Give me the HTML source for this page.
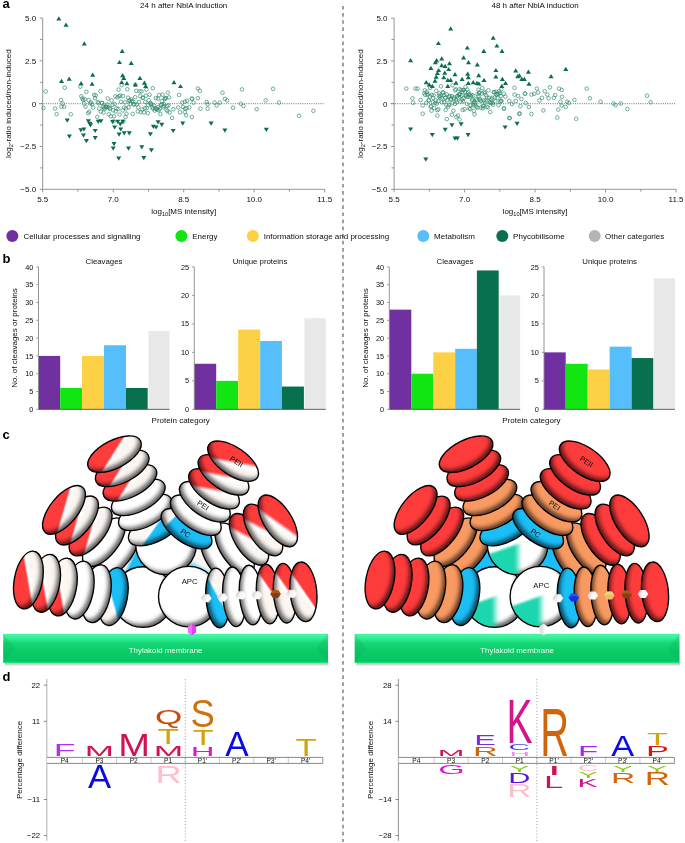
<!DOCTYPE html><html><head><meta charset="utf-8"><title>Figure</title><style>html,body{margin:0;padding:0;background:#fff;overflow:hidden;}svg{display:block;font-family:"Liberation Sans", sans-serif;will-change:transform;}</style></head><body><svg width="685" height="843" viewBox="0 0 685 843" font-family='"Liberation Sans", sans-serif'><defs><filter id="ish" x="-15%" y="-15%" width="130%" height="130%" color-interpolation-filters="sRGB">
<feOffset in="SourceAlpha" dx="-2.6" dy="-3.0" result="o"/><feGaussianBlur in="o" stdDeviation="2.3" result="b"/>
<feComposite in="SourceAlpha" in2="b" operator="out" result="rim"/><feFlood flood-color="#000" flood-opacity="0.62"/>
<feComposite in2="rim" operator="in" result="sh"/><feMerge><feMergeNode in="SourceGraphic"/><feMergeNode in="sh"/></feMerge></filter>
<linearGradient id="hexw" x1="0" y1="0.3" x2="1" y2="0.7"><stop offset="0" stop-color="#c9c9c9"/><stop offset="0.45" stop-color="#f6f6f6"/><stop offset="1" stop-color="#ffffff"/></linearGradient>
<filter id="ishL" x="-15%" y="-15%" width="130%" height="130%" color-interpolation-filters="sRGB">
<feOffset in="SourceAlpha" dx="2.6" dy="-3.0" result="o"/><feGaussianBlur in="o" stdDeviation="2.3" result="b"/>
<feComposite in="SourceAlpha" in2="b" operator="out" result="rim"/><feFlood flood-color="#000" flood-opacity="0.62"/>
<feComposite in2="rim" operator="in" result="sh"/><feMerge><feMergeNode in="SourceGraphic"/><feMergeNode in="sh"/></feMerge></filter>
<filter id="soft" x="-20%" y="-20%" width="140%" height="140%"><feGaussianBlur stdDeviation="1.2"/></filter><linearGradient id="g1" x1="0" y1="0" x2="0" y2="1"><stop offset="0" stop-color="#46f8a6"/><stop offset="0.12" stop-color="#3af39c"/><stop offset="0.3" stop-color="#17d877"/><stop offset="0.6" stop-color="#0bcb68"/><stop offset="0.93" stop-color="#06c663"/><stop offset="1" stop-color="#22e484"/></linearGradient><linearGradient id="g2" x1="0" y1="0" x2="0" y2="1"><stop offset="0" stop-color="#000" stop-opacity="0.28"/><stop offset="1" stop-color="#000" stop-opacity="0"/></linearGradient><linearGradient id="g3" x1="0" y1="0" x2="0" y2="1"><stop offset="0" stop-color="#46f8a6"/><stop offset="0.12" stop-color="#3af39c"/><stop offset="0.3" stop-color="#17d877"/><stop offset="0.6" stop-color="#0bcb68"/><stop offset="0.93" stop-color="#06c663"/><stop offset="1" stop-color="#22e484"/></linearGradient><linearGradient id="g4" x1="0" y1="0" x2="0" y2="1"><stop offset="0" stop-color="#000" stop-opacity="0.28"/><stop offset="1" stop-color="#000" stop-opacity="0"/></linearGradient><linearGradient id="g5" gradientUnits="userSpaceOnUse" x1="129.69" y1="558.54" x2="133.31" y2="560.26"><stop offset="0" stop-color="#fbf6f2"/><stop offset="1" stop-color="#1cbef6"/></linearGradient><linearGradient id="g6" x1="0" y1="1" x2="0.5" y2="0"><stop offset="0.25" stop-color="#1cbef6"/><stop offset="0.45" stop-color="#fbf6f2"/></linearGradient><linearGradient id="g7" gradientUnits="userSpaceOnUse" x1="76.39" y1="527.37" x2="103.28" y2="535.18"><stop offset="0" stop-color="#ff3c3c"/><stop offset="0.482" stop-color="#ff3c3c"/><stop offset="0.564" stop-color="#ffffff"/><stop offset="0.600" stop-color="#ffffff"/><stop offset="0.679" stop-color="#fbf6f2"/><stop offset="1" stop-color="#fbf6f2"/></linearGradient><linearGradient id="g8" gradientUnits="userSpaceOnUse" x1="62.79" y1="516.37" x2="89.68" y2="524.18"><stop offset="0" stop-color="#ff3c3c"/><stop offset="0.482" stop-color="#ff3c3c"/><stop offset="0.564" stop-color="#ffffff"/><stop offset="0.600" stop-color="#ffffff"/><stop offset="0.679" stop-color="#fbf6f2"/><stop offset="1" stop-color="#fbf6f2"/></linearGradient><linearGradient id="g9" gradientUnits="userSpaceOnUse" x1="49.79" y1="505.77" x2="76.68" y2="513.58"><stop offset="0" stop-color="#ff3c3c"/><stop offset="0.482" stop-color="#ff3c3c"/><stop offset="0.564" stop-color="#ffffff"/><stop offset="0.600" stop-color="#ffffff"/><stop offset="0.679" stop-color="#fbf6f2"/><stop offset="1" stop-color="#fbf6f2"/></linearGradient><linearGradient id="g10" gradientUnits="userSpaceOnUse" x1="256.85" y1="524.32" x2="243.92" y2="549.16"><stop offset="0" stop-color="#ff3c3c"/><stop offset="0.471" stop-color="#ff3c3c"/><stop offset="0.603" stop-color="#ffffff"/><stop offset="0.660" stop-color="#ffffff"/><stop offset="0.786" stop-color="#fbf6f2"/><stop offset="1" stop-color="#fbf6f2"/></linearGradient><linearGradient id="g11" gradientUnits="userSpaceOnUse" x1="270.39" y1="515.53" x2="257.79" y2="540.54"><stop offset="0" stop-color="#ff3c3c"/><stop offset="0.471" stop-color="#ff3c3c"/><stop offset="0.603" stop-color="#ffffff"/><stop offset="0.660" stop-color="#ffffff"/><stop offset="0.786" stop-color="#fbf6f2"/><stop offset="1" stop-color="#fbf6f2"/></linearGradient><linearGradient id="g12" gradientUnits="userSpaceOnUse" x1="285.72" y1="509.72" x2="269.53" y2="532.57"><stop offset="0" stop-color="#ff3c3c"/><stop offset="0.471" stop-color="#ff3c3c"/><stop offset="0.603" stop-color="#ffffff"/><stop offset="0.660" stop-color="#ffffff"/><stop offset="0.786" stop-color="#fbf6f2"/><stop offset="1" stop-color="#fbf6f2"/></linearGradient><linearGradient id="g13" gradientUnits="userSpaceOnUse" x1="167.02" y1="536.00" x2="144.19" y2="519.78"><stop offset="0" stop-color="#1cbef6"/><stop offset="0.482" stop-color="#1cbef6"/><stop offset="0.564" stop-color="#ffffff"/><stop offset="0.600" stop-color="#ffffff"/><stop offset="0.679" stop-color="#fbf6f2"/><stop offset="1" stop-color="#fbf6f2"/></linearGradient><linearGradient id="g14" gradientUnits="userSpaceOnUse" x1="116.57" y1="474.39" x2="140.22" y2="489.37"><stop offset="0" stop-color="#ff3c3c"/><stop offset="0.482" stop-color="#ff3c3c"/><stop offset="0.564" stop-color="#ffffff"/><stop offset="0.600" stop-color="#ffffff"/><stop offset="0.679" stop-color="#fbf6f2"/><stop offset="1" stop-color="#fbf6f2"/></linearGradient><linearGradient id="g15" gradientUnits="userSpaceOnUse" x1="108.77" y1="459.89" x2="132.42" y2="474.87"><stop offset="0" stop-color="#ff3c3c"/><stop offset="0.482" stop-color="#ff3c3c"/><stop offset="0.564" stop-color="#ffffff"/><stop offset="0.600" stop-color="#ffffff"/><stop offset="0.679" stop-color="#fbf6f2"/><stop offset="1" stop-color="#fbf6f2"/></linearGradient><linearGradient id="g16" gradientUnits="userSpaceOnUse" x1="101.07" y1="445.69" x2="124.72" y2="460.67"><stop offset="0" stop-color="#ff3c3c"/><stop offset="0.482" stop-color="#ff3c3c"/><stop offset="0.564" stop-color="#ffffff"/><stop offset="0.600" stop-color="#ffffff"/><stop offset="0.679" stop-color="#fbf6f2"/><stop offset="1" stop-color="#fbf6f2"/></linearGradient><linearGradient id="g17" gradientUnits="userSpaceOnUse" x1="185.08" y1="527.29" x2="165.20" y2="507.58"><stop offset="0" stop-color="#1cbef6"/><stop offset="0.482" stop-color="#1cbef6"/><stop offset="0.564" stop-color="#ffffff"/><stop offset="0.600" stop-color="#ffffff"/><stop offset="0.679" stop-color="#fbf6f2"/><stop offset="1" stop-color="#fbf6f2"/></linearGradient><linearGradient id="g18" gradientUnits="userSpaceOnUse" x1="216.56" y1="474.93" x2="211.52" y2="502.47"><stop offset="0" stop-color="#ff3c3c"/><stop offset="0.473" stop-color="#ff3c3c"/><stop offset="0.596" stop-color="#ffffff"/><stop offset="0.650" stop-color="#ffffff"/><stop offset="0.768" stop-color="#fbf6f2"/><stop offset="1" stop-color="#fbf6f2"/></linearGradient><linearGradient id="g19" gradientUnits="userSpaceOnUse" x1="226.06" y1="460.93" x2="221.02" y2="488.47"><stop offset="0" stop-color="#ff3c3c"/><stop offset="0.473" stop-color="#ff3c3c"/><stop offset="0.596" stop-color="#ffffff"/><stop offset="0.650" stop-color="#ffffff"/><stop offset="0.768" stop-color="#fbf6f2"/><stop offset="1" stop-color="#fbf6f2"/></linearGradient><linearGradient id="g20" gradientUnits="userSpaceOnUse" x1="235.66" y1="447.23" x2="230.62" y2="474.77"><stop offset="0" stop-color="#ff3c3c"/><stop offset="0.473" stop-color="#ff3c3c"/><stop offset="0.596" stop-color="#ffffff"/><stop offset="0.650" stop-color="#ffffff"/><stop offset="0.768" stop-color="#fbf6f2"/><stop offset="1" stop-color="#fbf6f2"/></linearGradient><linearGradient id="g21" gradientUnits="userSpaceOnUse" x1="125.88" y1="592.94" x2="98.99" y2="600.76"><stop offset="0" stop-color="#1cbef6"/><stop offset="0.482" stop-color="#1cbef6"/><stop offset="0.564" stop-color="#ffffff"/><stop offset="0.600" stop-color="#ffffff"/><stop offset="0.679" stop-color="#fbf6f2"/><stop offset="1" stop-color="#fbf6f2"/></linearGradient><linearGradient id="g22" gradientUnits="userSpaceOnUse" x1="45.15" y1="589.98" x2="72.75" y2="585.21"><stop offset="0" stop-color="#ff3c3c"/><stop offset="0.482" stop-color="#ff3c3c"/><stop offset="0.564" stop-color="#ffffff"/><stop offset="0.600" stop-color="#ffffff"/><stop offset="0.679" stop-color="#fbf6f2"/><stop offset="1" stop-color="#fbf6f2"/></linearGradient><linearGradient id="g23" gradientUnits="userSpaceOnUse" x1="28.85" y1="586.19" x2="56.44" y2="581.43"><stop offset="0" stop-color="#ff3c3c"/><stop offset="0.482" stop-color="#ff3c3c"/><stop offset="0.564" stop-color="#ffffff"/><stop offset="0.600" stop-color="#ffffff"/><stop offset="0.679" stop-color="#fbf6f2"/><stop offset="1" stop-color="#fbf6f2"/></linearGradient><linearGradient id="g24" gradientUnits="userSpaceOnUse" x1="13.52" y1="582.57" x2="41.11" y2="577.81"><stop offset="0" stop-color="#ff3c3c"/><stop offset="0.482" stop-color="#ff3c3c"/><stop offset="0.564" stop-color="#ffffff"/><stop offset="0.600" stop-color="#ffffff"/><stop offset="0.679" stop-color="#fbf6f2"/><stop offset="1" stop-color="#fbf6f2"/></linearGradient><linearGradient id="g25" gradientUnits="userSpaceOnUse" x1="205.62" y1="604.77" x2="229.96" y2="590.93"><stop offset="0" stop-color="#1cbef6"/><stop offset="0.482" stop-color="#1cbef6"/><stop offset="0.564" stop-color="#ffffff"/><stop offset="0.600" stop-color="#ffffff"/><stop offset="0.679" stop-color="#fbf6f2"/><stop offset="1" stop-color="#fbf6f2"/></linearGradient><linearGradient id="g26" gradientUnits="userSpaceOnUse" x1="283.50" y1="583.26" x2="260.51" y2="599.24"><stop offset="0" stop-color="#ff3c3c"/><stop offset="0.482" stop-color="#ff3c3c"/><stop offset="0.564" stop-color="#ffffff"/><stop offset="0.600" stop-color="#ffffff"/><stop offset="0.679" stop-color="#fbf6f2"/><stop offset="1" stop-color="#fbf6f2"/></linearGradient><linearGradient id="g27" gradientUnits="userSpaceOnUse" x1="300.50" y1="582.36" x2="277.51" y2="598.34"><stop offset="0" stop-color="#ff3c3c"/><stop offset="0.482" stop-color="#ff3c3c"/><stop offset="0.564" stop-color="#ffffff"/><stop offset="0.600" stop-color="#ffffff"/><stop offset="0.679" stop-color="#fbf6f2"/><stop offset="1" stop-color="#fbf6f2"/></linearGradient><linearGradient id="g28" gradientUnits="userSpaceOnUse" x1="316.05" y1="583.01" x2="293.05" y2="598.99"><stop offset="0" stop-color="#ff3c3c"/><stop offset="0.482" stop-color="#ff3c3c"/><stop offset="0.564" stop-color="#ffffff"/><stop offset="0.600" stop-color="#ffffff"/><stop offset="0.679" stop-color="#fbf6f2"/><stop offset="1" stop-color="#fbf6f2"/></linearGradient><clipPath id="cg29"><circle cx="494.60" cy="597.00" r="29.80"/></clipPath><linearGradient id="g30" gradientUnits="userSpaceOnUse" x1="491.60" y1="0" x2="499.10" y2="0"><stop offset="0" stop-color="#1fd6b0"/><stop offset="1" stop-color="#1fd6b0" stop-opacity="0"/></linearGradient><clipPath id="cg31"><circle cx="517.60" cy="544.40" r="29.80"/></clipPath><linearGradient id="g32" gradientUnits="userSpaceOnUse" x1="514.60" y1="0" x2="522.10" y2="0"><stop offset="0" stop-color="#1fd6b0"/><stop offset="1" stop-color="#1fd6b0" stop-opacity="0"/></linearGradient><clipPath id="cg33"><circle cx="540.40" cy="596.60" r="29.80"/></clipPath><linearGradient id="g34" gradientUnits="userSpaceOnUse" x1="537.40" y1="0" x2="544.90" y2="0"><stop offset="0" stop-color="#1fd6b0"/><stop offset="1" stop-color="#1fd6b0" stop-opacity="0"/></linearGradient></defs><text x="2.4" y="7.7" font-size="13" font-weight="bold" fill="#000">a</text>
<text x="2.4" y="262.8" font-size="13" font-weight="bold" fill="#000">b</text>
<text x="2.4" y="438.7" font-size="13" font-weight="bold" fill="#000">c</text>
<text x="2.4" y="680.8" font-size="13" font-weight="bold" fill="#000">d</text>
<path d="M343 5.9V842" stroke="#808080" stroke-width="1.5" stroke-dasharray="3.7 3.42"/>
<text x="183.7" y="8.3" font-size="8" text-anchor="middle" fill="#0d0d0d">24 h after NblA induction</text>
<path d="M42.70 18.10V189.30H324.70" fill="none" stroke="#8a8a8a" stroke-width="0.9"/>
<path d="M39.70 18.10H42.70" stroke="#8a8a8a" stroke-width="0.9"/>
<text x="36.10" y="20.95" font-size="8" text-anchor="end" fill="#0d0d0d">5.0</text>
<path d="M39.70 60.90H42.70" stroke="#8a8a8a" stroke-width="0.9"/>
<text x="36.10" y="63.75" font-size="8" text-anchor="end" fill="#0d0d0d">2.5</text>
<path d="M39.70 103.70H42.70" stroke="#8a8a8a" stroke-width="0.9"/>
<text x="36.10" y="106.55" font-size="8" text-anchor="end" fill="#0d0d0d">0</text>
<path d="M39.70 146.50H42.70" stroke="#8a8a8a" stroke-width="0.9"/>
<text x="36.10" y="149.35" font-size="8" text-anchor="end" fill="#0d0d0d">−2.5</text>
<path d="M39.70 189.30H42.70" stroke="#8a8a8a" stroke-width="0.9"/>
<text x="36.10" y="192.15" font-size="8" text-anchor="end" fill="#0d0d0d">−5.0</text>
<path d="M40.10 39.50H42.70" stroke="#8a8a8a" stroke-width="0.9"/>
<path d="M40.10 82.30H42.70" stroke="#8a8a8a" stroke-width="0.9"/>
<path d="M40.10 125.10H42.70" stroke="#8a8a8a" stroke-width="0.9"/>
<path d="M40.10 167.90H42.70" stroke="#8a8a8a" stroke-width="0.9"/>
<path d="M42.70 189.30V192.40" stroke="#8a8a8a" stroke-width="0.9"/>
<text x="42.70" y="201.8" font-size="8" text-anchor="middle" fill="#0d0d0d">5.5</text>
<path d="M113.20 189.30V192.40" stroke="#8a8a8a" stroke-width="0.9"/>
<text x="113.20" y="201.8" font-size="8" text-anchor="middle" fill="#0d0d0d">7.0</text>
<path d="M183.70 189.30V192.40" stroke="#8a8a8a" stroke-width="0.9"/>
<text x="183.70" y="201.8" font-size="8" text-anchor="middle" fill="#0d0d0d">8.5</text>
<path d="M254.20 189.30V192.40" stroke="#8a8a8a" stroke-width="0.9"/>
<text x="254.20" y="201.8" font-size="8" text-anchor="middle" fill="#0d0d0d">10.0</text>
<path d="M324.70 189.30V192.40" stroke="#8a8a8a" stroke-width="0.9"/>
<text x="324.70" y="201.8" font-size="8" text-anchor="middle" fill="#0d0d0d">11.5</text>
<path d="M77.95 189.30V191.70" stroke="#8a8a8a" stroke-width="0.9"/>
<path d="M148.45 189.30V191.70" stroke="#8a8a8a" stroke-width="0.9"/>
<path d="M218.95 189.30V191.70" stroke="#8a8a8a" stroke-width="0.9"/>
<path d="M289.45 189.30V191.70" stroke="#8a8a8a" stroke-width="0.9"/>
<text x="183.7" y="214.3" font-size="8" text-anchor="middle" fill="#0d0d0d">log<tspan font-size="5.6" dy="1.9">10</tspan><tspan dy="-1.9">[MS intensity]</tspan></text>
<text transform="translate(11.30,103.70) rotate(-90)" x="0" y="0" font-size="8" text-anchor="middle" fill="#0d0d0d">log<tspan font-size="5.6" dy="1.9">2</tspan><tspan dy="-1.9">-ratio induced/non-induced</tspan></text>
<path d="M39.20 103.70H324.70" stroke="#555" stroke-width="0.9" stroke-dasharray="0.9 1.35"/>
<text x="535.1" y="8.3" font-size="8" text-anchor="middle" fill="#0d0d0d">48 h after NblA induction</text>
<path d="M394.10 18.10V189.30H676.10" fill="none" stroke="#8a8a8a" stroke-width="0.9"/>
<path d="M391.10 18.10H394.10" stroke="#8a8a8a" stroke-width="0.9"/>
<text x="387.50" y="20.95" font-size="8" text-anchor="end" fill="#0d0d0d">5.0</text>
<path d="M391.10 60.90H394.10" stroke="#8a8a8a" stroke-width="0.9"/>
<text x="387.50" y="63.75" font-size="8" text-anchor="end" fill="#0d0d0d">2.5</text>
<path d="M391.10 103.70H394.10" stroke="#8a8a8a" stroke-width="0.9"/>
<text x="387.50" y="106.55" font-size="8" text-anchor="end" fill="#0d0d0d">0</text>
<path d="M391.10 146.50H394.10" stroke="#8a8a8a" stroke-width="0.9"/>
<text x="387.50" y="149.35" font-size="8" text-anchor="end" fill="#0d0d0d">−2.5</text>
<path d="M391.10 189.30H394.10" stroke="#8a8a8a" stroke-width="0.9"/>
<text x="387.50" y="192.15" font-size="8" text-anchor="end" fill="#0d0d0d">−5.0</text>
<path d="M391.50 39.50H394.10" stroke="#8a8a8a" stroke-width="0.9"/>
<path d="M391.50 82.30H394.10" stroke="#8a8a8a" stroke-width="0.9"/>
<path d="M391.50 125.10H394.10" stroke="#8a8a8a" stroke-width="0.9"/>
<path d="M391.50 167.90H394.10" stroke="#8a8a8a" stroke-width="0.9"/>
<path d="M394.10 189.30V192.40" stroke="#8a8a8a" stroke-width="0.9"/>
<text x="394.10" y="201.8" font-size="8" text-anchor="middle" fill="#0d0d0d">5.5</text>
<path d="M464.60 189.30V192.40" stroke="#8a8a8a" stroke-width="0.9"/>
<text x="464.60" y="201.8" font-size="8" text-anchor="middle" fill="#0d0d0d">7.0</text>
<path d="M535.10 189.30V192.40" stroke="#8a8a8a" stroke-width="0.9"/>
<text x="535.10" y="201.8" font-size="8" text-anchor="middle" fill="#0d0d0d">8.5</text>
<path d="M605.60 189.30V192.40" stroke="#8a8a8a" stroke-width="0.9"/>
<text x="605.60" y="201.8" font-size="8" text-anchor="middle" fill="#0d0d0d">10.0</text>
<path d="M676.10 189.30V192.40" stroke="#8a8a8a" stroke-width="0.9"/>
<text x="676.10" y="201.8" font-size="8" text-anchor="middle" fill="#0d0d0d">11.5</text>
<path d="M429.35 189.30V191.70" stroke="#8a8a8a" stroke-width="0.9"/>
<path d="M499.85 189.30V191.70" stroke="#8a8a8a" stroke-width="0.9"/>
<path d="M570.35 189.30V191.70" stroke="#8a8a8a" stroke-width="0.9"/>
<path d="M640.85 189.30V191.70" stroke="#8a8a8a" stroke-width="0.9"/>
<text x="535.1" y="214.3" font-size="8" text-anchor="middle" fill="#0d0d0d">log<tspan font-size="5.6" dy="1.9">10</tspan><tspan dy="-1.9">[MS intensity]</tspan></text>
<text transform="translate(362.70,103.70) rotate(-90)" x="0" y="0" font-size="8" text-anchor="middle" fill="#0d0d0d">log<tspan font-size="5.6" dy="1.9">2</tspan><tspan dy="-1.9">-ratio induced/non-induced</tspan></text>
<path d="M390.60 103.70H676.10" stroke="#555" stroke-width="0.9" stroke-dasharray="0.9 1.35"/>
<g fill="none" stroke="#2e8a68" stroke-width="0.68">
<circle cx="45.7" cy="91.4" r="1.8"/>
<circle cx="64.7" cy="87.7" r="1.8"/>
<circle cx="61.0" cy="100.1" r="1.8"/>
<circle cx="62.6" cy="103.6" r="1.8"/>
<circle cx="61.5" cy="106.7" r="1.8"/>
<circle cx="64.1" cy="106.7" r="1.8"/>
<circle cx="43.5" cy="107.9" r="1.8"/>
<circle cx="55.1" cy="108.5" r="1.8"/>
<circle cx="56.6" cy="114.2" r="1.8"/>
<circle cx="70.8" cy="114.3" r="1.8"/>
<circle cx="179.1" cy="95.0" r="1.8"/>
<circle cx="172.1" cy="117.9" r="1.8"/>
<circle cx="173.4" cy="109.2" r="1.8"/>
<circle cx="178.2" cy="107.4" r="1.8"/>
<circle cx="180.0" cy="112.2" r="1.8"/>
<circle cx="182.2" cy="102.6" r="1.8"/>
<circle cx="184.8" cy="101.7" r="1.8"/>
<circle cx="187.0" cy="100.8" r="1.8"/>
<circle cx="183.0" cy="107.0" r="1.8"/>
<circle cx="185.2" cy="108.7" r="1.8"/>
<circle cx="186.5" cy="108.3" r="1.8"/>
<circle cx="189.2" cy="107.4" r="1.8"/>
<circle cx="184.8" cy="112.2" r="1.8"/>
<circle cx="186.1" cy="115.3" r="1.8"/>
<circle cx="191.8" cy="98.6" r="1.8"/>
<circle cx="193.5" cy="102.6" r="1.8"/>
<circle cx="197.9" cy="88.6" r="1.8"/>
<circle cx="199.8" cy="90.8" r="1.8"/>
<circle cx="197.9" cy="98.2" r="1.8"/>
<circle cx="200.5" cy="108.7" r="1.8"/>
<circle cx="191.8" cy="117.0" r="1.8"/>
<circle cx="207.6" cy="108.7" r="1.8"/>
<circle cx="206.7" cy="102.1" r="1.8"/>
<circle cx="207.6" cy="104.3" r="1.8"/>
<circle cx="214.6" cy="102.6" r="1.8"/>
<circle cx="192.1" cy="98.9" r="1.8"/>
<circle cx="222.5" cy="92.7" r="1.8"/>
<circle cx="224.9" cy="98.9" r="1.8"/>
<circle cx="227.1" cy="100.4" r="1.8"/>
<circle cx="242.0" cy="89.4" r="1.8"/>
<circle cx="273.1" cy="88.8" r="1.8"/>
<circle cx="265.7" cy="100.4" r="1.8"/>
<circle cx="279.0" cy="102.6" r="1.8"/>
<circle cx="219.9" cy="102.6" r="1.8"/>
<circle cx="240.7" cy="103.7" r="1.8"/>
<circle cx="216.6" cy="105.5" r="1.8"/>
<circle cx="233.0" cy="107.7" r="1.8"/>
<circle cx="243.5" cy="106.0" r="1.8"/>
<circle cx="256.7" cy="109.2" r="1.8"/>
<circle cx="299.1" cy="115.8" r="1.8"/>
<circle cx="313.4" cy="110.8" r="1.8"/>
<circle cx="80.4" cy="86.7" r="1.8"/>
<circle cx="81.3" cy="96.3" r="1.8"/>
<circle cx="82.3" cy="98.4" r="1.8"/>
<circle cx="83.2" cy="100.0" r="1.8"/>
<circle cx="84.2" cy="103.4" r="1.8"/>
<circle cx="84.8" cy="99.3" r="1.8"/>
<circle cx="85.5" cy="106.7" r="1.8"/>
<circle cx="86.4" cy="91.8" r="1.8"/>
<circle cx="88.2" cy="113.2" r="1.8"/>
<circle cx="88.7" cy="100.1" r="1.8"/>
<circle cx="89.2" cy="111.7" r="1.8"/>
<circle cx="90.1" cy="103.4" r="1.8"/>
<circle cx="91.1" cy="102.6" r="1.8"/>
<circle cx="92.2" cy="104.4" r="1.8"/>
<circle cx="93.1" cy="107.5" r="1.8"/>
<circle cx="94.2" cy="94.9" r="1.8"/>
<circle cx="95.0" cy="98.2" r="1.8"/>
<circle cx="95.7" cy="95.4" r="1.8"/>
<circle cx="97.3" cy="116.9" r="1.8"/>
<circle cx="97.9" cy="102.1" r="1.8"/>
<circle cx="98.5" cy="103.3" r="1.8"/>
<circle cx="99.2" cy="108.6" r="1.8"/>
<circle cx="100.5" cy="91.2" r="1.8"/>
<circle cx="100.9" cy="111.5" r="1.8"/>
<circle cx="101.9" cy="103.1" r="1.8"/>
<circle cx="102.0" cy="102.8" r="1.8"/>
<circle cx="103.1" cy="106.9" r="1.8"/>
<circle cx="103.4" cy="112.5" r="1.8"/>
<circle cx="104.3" cy="107.7" r="1.8"/>
<circle cx="104.6" cy="108.8" r="1.8"/>
<circle cx="105.7" cy="106.5" r="1.8"/>
<circle cx="106.2" cy="107.2" r="1.8"/>
<circle cx="106.4" cy="106.8" r="1.8"/>
<circle cx="107.0" cy="104.4" r="1.8"/>
<circle cx="107.9" cy="98.5" r="1.8"/>
<circle cx="108.5" cy="107.4" r="1.8"/>
<circle cx="108.9" cy="114.3" r="1.8"/>
<circle cx="109.9" cy="108.8" r="1.8"/>
<circle cx="110.2" cy="108.2" r="1.8"/>
<circle cx="110.9" cy="116.3" r="1.8"/>
<circle cx="111.5" cy="100.5" r="1.8"/>
<circle cx="112.5" cy="104.8" r="1.8"/>
<circle cx="113.1" cy="110.3" r="1.8"/>
<circle cx="113.6" cy="121.3" r="1.8"/>
<circle cx="114.0" cy="116.3" r="1.8"/>
<circle cx="114.7" cy="104.0" r="1.8"/>
<circle cx="115.3" cy="96.4" r="1.8"/>
<circle cx="115.8" cy="111.4" r="1.8"/>
<circle cx="116.5" cy="108.3" r="1.8"/>
<circle cx="117.4" cy="97.3" r="1.8"/>
<circle cx="118.3" cy="108.9" r="1.8"/>
<circle cx="118.6" cy="89.6" r="1.8"/>
<circle cx="119.0" cy="96.2" r="1.8"/>
<circle cx="119.6" cy="114.6" r="1.8"/>
<circle cx="120.3" cy="95.5" r="1.8"/>
<circle cx="120.9" cy="101.8" r="1.8"/>
<circle cx="121.6" cy="85.2" r="1.8"/>
<circle cx="122.7" cy="110.5" r="1.8"/>
<circle cx="123.0" cy="96.1" r="1.8"/>
<circle cx="123.4" cy="121.7" r="1.8"/>
<circle cx="124.1" cy="107.6" r="1.8"/>
<circle cx="125.0" cy="102.4" r="1.8"/>
<circle cx="125.6" cy="117.0" r="1.8"/>
<circle cx="126.0" cy="108.4" r="1.8"/>
<circle cx="126.5" cy="113.7" r="1.8"/>
<circle cx="127.3" cy="89.3" r="1.8"/>
<circle cx="128.1" cy="97.7" r="1.8"/>
<circle cx="128.5" cy="107.4" r="1.8"/>
<circle cx="129.0" cy="100.5" r="1.8"/>
<circle cx="129.8" cy="100.5" r="1.8"/>
<circle cx="130.4" cy="103.9" r="1.8"/>
<circle cx="131.1" cy="99.4" r="1.8"/>
<circle cx="131.8" cy="101.3" r="1.8"/>
<circle cx="132.7" cy="113.9" r="1.8"/>
<circle cx="133.2" cy="101.7" r="1.8"/>
<circle cx="133.8" cy="104.3" r="1.8"/>
<circle cx="134.1" cy="104.5" r="1.8"/>
<circle cx="135.2" cy="97.2" r="1.8"/>
<circle cx="135.3" cy="84.7" r="1.8"/>
<circle cx="136.3" cy="90.9" r="1.8"/>
<circle cx="136.8" cy="104.4" r="1.8"/>
<circle cx="137.8" cy="111.4" r="1.8"/>
<circle cx="138.3" cy="107.3" r="1.8"/>
<circle cx="139.0" cy="102.1" r="1.8"/>
<circle cx="139.6" cy="91.3" r="1.8"/>
<circle cx="140.3" cy="96.2" r="1.8"/>
<circle cx="140.9" cy="112.1" r="1.8"/>
<circle cx="141.5" cy="91.5" r="1.8"/>
<circle cx="142.2" cy="109.6" r="1.8"/>
<circle cx="142.6" cy="97.8" r="1.8"/>
<circle cx="143.2" cy="97.8" r="1.8"/>
<circle cx="143.9" cy="112.4" r="1.8"/>
<circle cx="144.8" cy="108.2" r="1.8"/>
<circle cx="145.3" cy="102.0" r="1.8"/>
<circle cx="145.9" cy="95.6" r="1.8"/>
<circle cx="146.4" cy="89.7" r="1.8"/>
<circle cx="146.7" cy="108.2" r="1.8"/>
<circle cx="147.8" cy="113.0" r="1.8"/>
<circle cx="148.2" cy="104.9" r="1.8"/>
<circle cx="148.7" cy="100.2" r="1.8"/>
<circle cx="149.6" cy="94.7" r="1.8"/>
<circle cx="150.4" cy="103.0" r="1.8"/>
<circle cx="150.6" cy="104.1" r="1.8"/>
<circle cx="151.5" cy="104.3" r="1.8"/>
<circle cx="152.3" cy="107.4" r="1.8"/>
<circle cx="152.7" cy="88.2" r="1.8"/>
<circle cx="153.2" cy="108.6" r="1.8"/>
<circle cx="154.0" cy="105.5" r="1.8"/>
<circle cx="154.7" cy="110.6" r="1.8"/>
<circle cx="155.4" cy="108.4" r="1.8"/>
<circle cx="155.8" cy="98.0" r="1.8"/>
<circle cx="156.3" cy="108.8" r="1.8"/>
<circle cx="157.3" cy="109.6" r="1.8"/>
<circle cx="157.9" cy="98.6" r="1.8"/>
<circle cx="158.2" cy="107.2" r="1.8"/>
<circle cx="158.7" cy="110.2" r="1.8"/>
<circle cx="159.2" cy="95.1" r="1.8"/>
<circle cx="159.9" cy="108.5" r="1.8"/>
<circle cx="160.4" cy="114.0" r="1.8"/>
<circle cx="161.0" cy="105.1" r="1.8"/>
<circle cx="161.7" cy="104.3" r="1.8"/>
<circle cx="161.8" cy="101.2" r="1.8"/>
<circle cx="162.5" cy="94.7" r="1.8"/>
<circle cx="163.3" cy="107.3" r="1.8"/>
<circle cx="163.7" cy="104.0" r="1.8"/>
<circle cx="164.0" cy="106.0" r="1.8"/>
<circle cx="164.6" cy="99.0" r="1.8"/>
<circle cx="165.1" cy="98.3" r="1.8"/>
<circle cx="166.0" cy="98.0" r="1.8"/>
<circle cx="166.5" cy="109.7" r="1.8"/>
<circle cx="167.1" cy="106.0" r="1.8"/>
<circle cx="167.4" cy="111.0" r="1.8"/>
<circle cx="167.8" cy="92.6" r="1.8"/>
<circle cx="168.5" cy="105.4" r="1.8"/>
<circle cx="169.1" cy="97.4" r="1.8"/>
<circle cx="169.7" cy="112.4" r="1.8"/>
</g>
<g fill="#0b6e4d">
<path d="M58.80 16.22L61.32 20.42L56.28 20.42Z"/>
<path d="M66.00 22.52L68.52 26.72L63.48 26.72Z"/>
<path d="M84.30 41.32L86.82 45.52L81.78 45.52Z"/>
<path d="M122.20 48.72L124.72 52.92L119.68 52.92Z"/>
<path d="M119.50 59.92L122.02 64.12L116.98 64.12Z"/>
<path d="M131.20 60.72L133.72 64.92L128.68 64.92Z"/>
<path d="M92.70 72.62L95.22 76.82L90.18 76.82Z"/>
<path d="M122.60 73.02L125.12 77.22L120.08 77.22Z"/>
<path d="M69.20 76.52L71.72 80.72L66.68 80.72Z"/>
<path d="M123.80 75.72L126.32 79.92L121.28 79.92Z"/>
<path d="M139.90 75.72L142.42 79.92L137.38 79.92Z"/>
<path d="M61.50 78.72L64.02 82.92L58.98 82.92Z"/>
<path d="M81.10 81.02L83.62 85.22L78.58 85.22Z"/>
<path d="M92.10 81.62L94.62 85.82L89.58 85.82Z"/>
<path d="M121.70 79.92L124.22 84.12L119.18 84.12Z"/>
<path d="M126.90 81.02L129.42 85.22L124.38 85.22Z"/>
<path d="M135.40 82.22L137.92 86.42L132.88 86.42Z"/>
<path d="M144.40 80.62L146.92 84.82L141.88 84.82Z"/>
<path d="M145.70 83.72L148.22 87.92L143.18 87.92Z"/>
<path d="M174.00 80.12L176.52 84.32L171.48 84.32Z"/>
<path d="M180.50 83.92L183.02 88.12L177.98 88.12Z"/>
<path d="M67.20 122.78L69.72 118.58L64.68 118.58Z"/>
<path d="M69.40 138.78L71.92 134.58L66.88 134.58Z"/>
<path d="M88.40 123.48L90.92 119.28L85.88 119.28Z"/>
<path d="M89.90 125.88L92.42 121.68L87.38 121.68Z"/>
<path d="M90.50 127.48L93.02 123.28L87.98 123.28Z"/>
<path d="M98.20 123.88L100.72 119.68L95.68 119.68Z"/>
<path d="M100.90 123.48L103.42 119.28L98.38 119.28Z"/>
<path d="M80.90 132.48L83.42 128.28L78.38 128.28Z"/>
<path d="M83.90 131.58L86.42 127.38L81.38 127.38Z"/>
<path d="M83.50 137.78L86.02 133.58L80.98 133.58Z"/>
<path d="M86.40 143.28L88.92 139.08L83.88 139.08Z"/>
<path d="M95.20 133.08L97.72 128.88L92.68 128.88Z"/>
<path d="M95.20 140.18L97.72 135.98L92.68 135.98Z"/>
<path d="M112.60 124.28L115.12 120.08L110.08 120.08Z"/>
<path d="M117.70 123.88L120.22 119.68L115.18 119.68Z"/>
<path d="M122.80 123.88L125.32 119.68L120.28 119.68Z"/>
<path d="M114.60 129.58L117.12 125.38L112.08 125.38Z"/>
<path d="M120.30 126.48L122.82 122.28L117.78 122.28Z"/>
<path d="M120.70 131.58L123.22 127.38L118.18 127.38Z"/>
<path d="M119.10 136.68L121.62 132.48L116.58 132.48Z"/>
<path d="M124.20 135.48L126.72 131.28L121.68 131.28Z"/>
<path d="M129.30 135.48L131.82 131.28L126.78 131.28Z"/>
<path d="M114.00 146.28L116.52 142.08L111.48 142.08Z"/>
<path d="M113.20 150.78L115.72 146.58L110.68 146.58Z"/>
<path d="M128.50 150.78L131.02 146.58L125.98 146.58Z"/>
<path d="M118.70 160.68L121.22 156.48L116.18 156.48Z"/>
<path d="M141.80 149.38L144.32 145.18L139.28 145.18Z"/>
<path d="M143.80 160.28L146.32 156.08L141.28 156.08Z"/>
<path d="M151.40 152.48L153.92 148.28L148.88 148.28Z"/>
<path d="M150.40 136.48L152.92 132.28L147.88 132.28Z"/>
<path d="M153.40 128.98L155.92 124.78L150.88 124.78Z"/>
<path d="M156.10 129.58L158.62 125.38L153.58 125.38Z"/>
<path d="M158.10 124.48L160.62 120.28L155.58 120.28Z"/>
<path d="M161.80 126.88L164.32 122.68L159.28 122.68Z"/>
<path d="M173.20 133.08L175.72 128.88L170.68 128.88Z"/>
<path d="M182.70 125.78L185.22 121.58L180.18 121.58Z"/>
<path d="M211.10 125.78L213.62 121.58L208.58 121.58Z"/>
<path d="M224.90 132.78L227.42 128.58L222.38 128.58Z"/>
<path d="M266.30 131.88L268.82 127.68L263.78 127.68Z"/>
</g>
<g fill="none" stroke="#2e8a68" stroke-width="0.68">
<circle cx="406.3" cy="88.6" r="1.8"/>
<circle cx="415.5" cy="88.6" r="1.8"/>
<circle cx="417.5" cy="88.6" r="1.8"/>
<circle cx="412.4" cy="98.4" r="1.8"/>
<circle cx="420.6" cy="100.0" r="1.8"/>
<circle cx="422.7" cy="105.5" r="1.8"/>
<circle cx="422.7" cy="113.7" r="1.8"/>
<circle cx="413.1" cy="102.8" r="1.8"/>
<circle cx="431.5" cy="110.7" r="1.8"/>
<circle cx="437.4" cy="115.6" r="1.8"/>
<circle cx="438.4" cy="109.3" r="1.8"/>
<circle cx="445.6" cy="109.9" r="1.8"/>
<circle cx="446.8" cy="119.1" r="1.8"/>
<circle cx="451.9" cy="114.8" r="1.8"/>
<circle cx="453.4" cy="110.7" r="1.8"/>
<circle cx="456.4" cy="117.1" r="1.8"/>
<circle cx="459.5" cy="119.5" r="1.8"/>
<circle cx="462.6" cy="109.9" r="1.8"/>
<circle cx="473.8" cy="111.0" r="1.8"/>
<circle cx="504.0" cy="108.7" r="1.8"/>
<circle cx="509.8" cy="118.1" r="1.8"/>
<circle cx="519.2" cy="113.8" r="1.8"/>
<circle cx="501.3" cy="89.4" r="1.8"/>
<circle cx="503.9" cy="93.8" r="1.8"/>
<circle cx="505.3" cy="96.5" r="1.8"/>
<circle cx="514.5" cy="87.8" r="1.8"/>
<circle cx="514.5" cy="94.6" r="1.8"/>
<circle cx="509.2" cy="100.9" r="1.8"/>
<circle cx="503.9" cy="108.3" r="1.8"/>
<circle cx="509.2" cy="118.0" r="1.8"/>
<circle cx="519.7" cy="113.5" r="1.8"/>
<circle cx="515.8" cy="100.9" r="1.8"/>
<circle cx="520.5" cy="106.2" r="1.8"/>
<circle cx="521.5" cy="99.1" r="1.8"/>
<circle cx="525.0" cy="93.8" r="1.8"/>
<circle cx="525.7" cy="103.0" r="1.8"/>
<circle cx="528.9" cy="107.0" r="1.8"/>
<circle cx="531.5" cy="114.0" r="1.8"/>
<circle cx="531.5" cy="94.6" r="1.8"/>
<circle cx="534.2" cy="93.8" r="1.8"/>
<circle cx="536.8" cy="88.6" r="1.8"/>
<circle cx="538.1" cy="92.5" r="1.8"/>
<circle cx="539.4" cy="100.4" r="1.8"/>
<circle cx="542.0" cy="97.8" r="1.8"/>
<circle cx="544.7" cy="91.2" r="1.8"/>
<circle cx="547.3" cy="94.6" r="1.8"/>
<circle cx="548.6" cy="98.3" r="1.8"/>
<circle cx="549.9" cy="87.3" r="1.8"/>
<circle cx="543.4" cy="110.4" r="1.8"/>
<circle cx="553.9" cy="97.8" r="1.8"/>
<circle cx="555.2" cy="95.1" r="1.8"/>
<circle cx="559.1" cy="88.6" r="1.8"/>
<circle cx="561.7" cy="89.9" r="1.8"/>
<circle cx="560.4" cy="101.7" r="1.8"/>
<circle cx="561.7" cy="105.6" r="1.8"/>
<circle cx="558.3" cy="109.6" r="1.8"/>
<circle cx="557.3" cy="117.5" r="1.8"/>
<circle cx="567.0" cy="101.7" r="1.8"/>
<circle cx="568.8" cy="103.0" r="1.8"/>
<circle cx="565.7" cy="107.0" r="1.8"/>
<circle cx="574.4" cy="99.9" r="1.8"/>
<circle cx="576.2" cy="118.8" r="1.8"/>
<circle cx="586.7" cy="88.6" r="1.8"/>
<circle cx="589.9" cy="98.3" r="1.8"/>
<circle cx="600.6" cy="101.7" r="1.8"/>
<circle cx="613.5" cy="103.5" r="1.8"/>
<circle cx="615.6" cy="105.1" r="1.8"/>
<circle cx="620.9" cy="103.5" r="1.8"/>
<circle cx="627.4" cy="109.1" r="1.8"/>
<circle cx="647.1" cy="95.7" r="1.8"/>
<circle cx="650.6" cy="102.2" r="1.8"/>
<circle cx="525.1" cy="93.5" r="1.8"/>
<circle cx="562.0" cy="96.8" r="1.8"/>
<circle cx="518.0" cy="96.0" r="1.8"/>
<circle cx="512.0" cy="104.0" r="1.8"/>
<circle cx="424.3" cy="93.3" r="1.8"/>
<circle cx="424.7" cy="90.3" r="1.8"/>
<circle cx="425.2" cy="95.0" r="1.8"/>
<circle cx="426.3" cy="103.0" r="1.8"/>
<circle cx="426.8" cy="91.8" r="1.8"/>
<circle cx="427.4" cy="93.7" r="1.8"/>
<circle cx="427.7" cy="95.1" r="1.8"/>
<circle cx="428.7" cy="100.5" r="1.8"/>
<circle cx="428.8" cy="100.2" r="1.8"/>
<circle cx="429.8" cy="96.5" r="1.8"/>
<circle cx="430.2" cy="87.9" r="1.8"/>
<circle cx="430.6" cy="106.6" r="1.8"/>
<circle cx="431.2" cy="106.2" r="1.8"/>
<circle cx="431.8" cy="94.8" r="1.8"/>
<circle cx="432.9" cy="102.2" r="1.8"/>
<circle cx="433.2" cy="97.9" r="1.8"/>
<circle cx="433.6" cy="95.3" r="1.8"/>
<circle cx="434.2" cy="108.0" r="1.8"/>
<circle cx="435.1" cy="103.1" r="1.8"/>
<circle cx="435.8" cy="100.4" r="1.8"/>
<circle cx="436.2" cy="90.8" r="1.8"/>
<circle cx="436.8" cy="103.6" r="1.8"/>
<circle cx="437.3" cy="110.1" r="1.8"/>
<circle cx="438.3" cy="101.1" r="1.8"/>
<circle cx="438.9" cy="95.6" r="1.8"/>
<circle cx="439.1" cy="93.4" r="1.8"/>
<circle cx="439.9" cy="97.4" r="1.8"/>
<circle cx="440.2" cy="95.9" r="1.8"/>
<circle cx="440.9" cy="86.3" r="1.8"/>
<circle cx="441.6" cy="98.1" r="1.8"/>
<circle cx="441.9" cy="102.3" r="1.8"/>
<circle cx="442.8" cy="92.3" r="1.8"/>
<circle cx="443.2" cy="92.8" r="1.8"/>
<circle cx="444.1" cy="102.1" r="1.8"/>
<circle cx="444.3" cy="94.8" r="1.8"/>
<circle cx="445.3" cy="97.6" r="1.8"/>
<circle cx="445.5" cy="97.9" r="1.8"/>
<circle cx="446.4" cy="105.3" r="1.8"/>
<circle cx="446.7" cy="94.4" r="1.8"/>
<circle cx="447.4" cy="100.2" r="1.8"/>
<circle cx="448.1" cy="106.7" r="1.8"/>
<circle cx="449.0" cy="96.9" r="1.8"/>
<circle cx="449.1" cy="104.9" r="1.8"/>
<circle cx="449.7" cy="95.9" r="1.8"/>
<circle cx="450.7" cy="99.7" r="1.8"/>
<circle cx="451.0" cy="98.6" r="1.8"/>
<circle cx="451.9" cy="96.2" r="1.8"/>
<circle cx="452.0" cy="103.4" r="1.8"/>
<circle cx="452.6" cy="85.3" r="1.8"/>
<circle cx="453.8" cy="97.5" r="1.8"/>
<circle cx="454.0" cy="99.0" r="1.8"/>
<circle cx="454.9" cy="103.9" r="1.8"/>
<circle cx="455.1" cy="90.3" r="1.8"/>
<circle cx="455.7" cy="89.3" r="1.8"/>
<circle cx="456.0" cy="100.4" r="1.8"/>
<circle cx="456.7" cy="102.3" r="1.8"/>
<circle cx="456.9" cy="96.4" r="1.8"/>
<circle cx="457.6" cy="96.0" r="1.8"/>
<circle cx="457.9" cy="115.5" r="1.8"/>
<circle cx="458.4" cy="97.6" r="1.8"/>
<circle cx="458.7" cy="94.3" r="1.8"/>
<circle cx="459.1" cy="94.6" r="1.8"/>
<circle cx="459.5" cy="89.2" r="1.8"/>
<circle cx="460.2" cy="94.4" r="1.8"/>
<circle cx="460.5" cy="101.5" r="1.8"/>
<circle cx="461.2" cy="89.9" r="1.8"/>
<circle cx="461.6" cy="95.4" r="1.8"/>
<circle cx="462.0" cy="99.5" r="1.8"/>
<circle cx="462.3" cy="91.7" r="1.8"/>
<circle cx="462.9" cy="101.3" r="1.8"/>
<circle cx="463.1" cy="90.1" r="1.8"/>
<circle cx="463.5" cy="98.2" r="1.8"/>
<circle cx="463.8" cy="90.0" r="1.8"/>
<circle cx="464.6" cy="109.3" r="1.8"/>
<circle cx="465.1" cy="91.9" r="1.8"/>
<circle cx="465.5" cy="86.9" r="1.8"/>
<circle cx="465.8" cy="96.3" r="1.8"/>
<circle cx="466.1" cy="95.3" r="1.8"/>
<circle cx="466.9" cy="103.8" r="1.8"/>
<circle cx="467.2" cy="89.6" r="1.8"/>
<circle cx="467.4" cy="96.5" r="1.8"/>
<circle cx="468.0" cy="96.9" r="1.8"/>
<circle cx="468.3" cy="92.3" r="1.8"/>
<circle cx="468.9" cy="94.3" r="1.8"/>
<circle cx="469.2" cy="108.5" r="1.8"/>
<circle cx="469.6" cy="94.9" r="1.8"/>
<circle cx="470.3" cy="109.0" r="1.8"/>
<circle cx="470.7" cy="105.1" r="1.8"/>
<circle cx="470.9" cy="96.3" r="1.8"/>
<circle cx="471.5" cy="94.9" r="1.8"/>
<circle cx="472.1" cy="100.5" r="1.8"/>
<circle cx="472.4" cy="99.5" r="1.8"/>
<circle cx="473.1" cy="105.2" r="1.8"/>
<circle cx="473.1" cy="95.4" r="1.8"/>
<circle cx="473.6" cy="103.4" r="1.8"/>
<circle cx="474.2" cy="101.9" r="1.8"/>
<circle cx="474.6" cy="114.4" r="1.8"/>
<circle cx="475.2" cy="103.1" r="1.8"/>
<circle cx="475.6" cy="105.7" r="1.8"/>
<circle cx="476.1" cy="99.0" r="1.8"/>
<circle cx="476.6" cy="106.8" r="1.8"/>
<circle cx="477.0" cy="100.2" r="1.8"/>
<circle cx="477.4" cy="107.6" r="1.8"/>
<circle cx="477.7" cy="94.2" r="1.8"/>
<circle cx="478.4" cy="89.8" r="1.8"/>
<circle cx="478.6" cy="96.3" r="1.8"/>
<circle cx="479.1" cy="93.1" r="1.8"/>
<circle cx="479.4" cy="92.4" r="1.8"/>
<circle cx="479.8" cy="99.0" r="1.8"/>
<circle cx="480.2" cy="100.3" r="1.8"/>
<circle cx="480.7" cy="107.7" r="1.8"/>
<circle cx="481.0" cy="100.9" r="1.8"/>
<circle cx="481.9" cy="93.6" r="1.8"/>
<circle cx="482.2" cy="88.1" r="1.8"/>
<circle cx="482.7" cy="108.1" r="1.8"/>
<circle cx="482.9" cy="106.0" r="1.8"/>
<circle cx="483.6" cy="106.1" r="1.8"/>
<circle cx="483.9" cy="100.5" r="1.8"/>
<circle cx="484.4" cy="91.9" r="1.8"/>
<circle cx="484.7" cy="93.3" r="1.8"/>
<circle cx="485.2" cy="102.5" r="1.8"/>
<circle cx="485.7" cy="100.4" r="1.8"/>
<circle cx="486.2" cy="95.3" r="1.8"/>
<circle cx="486.7" cy="106.8" r="1.8"/>
<circle cx="487.2" cy="97.6" r="1.8"/>
<circle cx="488.1" cy="107.4" r="1.8"/>
<circle cx="488.4" cy="90.4" r="1.8"/>
<circle cx="489.1" cy="97.8" r="1.8"/>
<circle cx="489.7" cy="102.3" r="1.8"/>
<circle cx="490.2" cy="102.2" r="1.8"/>
<circle cx="490.3" cy="112.0" r="1.8"/>
<circle cx="491.0" cy="103.0" r="1.8"/>
<circle cx="491.5" cy="99.3" r="1.8"/>
<circle cx="492.3" cy="97.8" r="1.8"/>
<circle cx="492.5" cy="103.0" r="1.8"/>
<circle cx="493.1" cy="104.8" r="1.8"/>
<circle cx="493.6" cy="92.2" r="1.8"/>
<circle cx="494.4" cy="92.1" r="1.8"/>
<circle cx="494.8" cy="97.4" r="1.8"/>
<circle cx="495.4" cy="101.4" r="1.8"/>
<circle cx="496.0" cy="91.7" r="1.8"/>
<circle cx="496.4" cy="94.7" r="1.8"/>
<circle cx="496.9" cy="94.2" r="1.8"/>
<circle cx="497.5" cy="97.9" r="1.8"/>
<circle cx="498.2" cy="93.9" r="1.8"/>
<circle cx="498.5" cy="105.1" r="1.8"/>
<circle cx="499.3" cy="91.2" r="1.8"/>
<circle cx="499.7" cy="93.1" r="1.8"/>
<circle cx="500.2" cy="101.9" r="1.8"/>
<circle cx="500.8" cy="100.8" r="1.8"/>
<circle cx="501.0" cy="96.1" r="1.8"/>
<circle cx="501.5" cy="100.9" r="1.8"/>
</g>
<g fill="#0b6e4d">
<path d="M450.70 26.22L453.22 30.42L448.18 30.42Z"/>
<path d="M438.40 40.92L440.92 45.12L435.88 45.12Z"/>
<path d="M493.20 35.62L495.72 39.82L490.68 39.82Z"/>
<path d="M496.90 43.42L499.42 47.62L494.38 47.62Z"/>
<path d="M502.00 48.72L504.52 52.92L499.48 52.92Z"/>
<path d="M467.30 45.42L469.82 49.62L464.78 49.62Z"/>
<path d="M483.80 48.72L486.32 52.92L481.28 52.92Z"/>
<path d="M410.60 58.12L413.12 62.32L408.08 62.32Z"/>
<path d="M436.60 58.12L439.12 62.32L434.08 62.32Z"/>
<path d="M435.40 60.12L437.92 64.32L432.88 64.32Z"/>
<path d="M441.70 56.22L444.22 60.42L439.18 60.42Z"/>
<path d="M463.60 55.22L466.12 59.42L461.08 59.42Z"/>
<path d="M468.50 60.12L471.02 64.32L465.98 64.32Z"/>
<path d="M477.30 62.22L479.82 66.42L474.78 66.42Z"/>
<path d="M449.50 61.12L452.02 65.32L446.98 65.32Z"/>
<path d="M441.70 63.02L444.22 67.22L439.18 67.22Z"/>
<path d="M445.20 63.82L447.72 68.02L442.68 68.02Z"/>
<path d="M430.90 65.82L433.42 70.02L428.38 70.02Z"/>
<path d="M438.60 67.92L441.12 72.12L436.08 72.12Z"/>
<path d="M437.40 70.92L439.92 75.12L434.88 75.12Z"/>
<path d="M448.70 66.92L451.22 71.12L446.18 71.12Z"/>
<path d="M444.80 70.52L447.32 74.72L442.28 74.72Z"/>
<path d="M455.00 72.02L457.52 76.22L452.48 76.22Z"/>
<path d="M467.70 71.62L470.22 75.82L465.18 75.82Z"/>
<path d="M468.30 75.02L470.82 79.22L465.78 79.22Z"/>
<path d="M478.70 73.02L481.22 77.22L476.18 77.22Z"/>
<path d="M495.90 67.92L498.42 72.12L493.38 72.12Z"/>
<path d="M495.90 74.42L498.42 78.62L493.38 78.62Z"/>
<path d="M436.20 74.62L438.72 78.82L433.68 78.82Z"/>
<path d="M443.80 75.02L446.32 79.22L441.28 79.22Z"/>
<path d="M435.00 78.52L437.52 82.72L432.48 82.72Z"/>
<path d="M447.80 77.72L450.32 81.92L445.28 81.92Z"/>
<path d="M450.70 77.72L453.22 81.92L448.18 81.92Z"/>
<path d="M462.10 76.72L464.62 80.92L459.58 80.92Z"/>
<path d="M484.00 77.72L486.52 81.92L481.48 81.92Z"/>
<path d="M502.40 76.72L504.92 80.92L499.88 80.92Z"/>
<path d="M426.20 80.12L428.72 84.32L423.68 84.32Z"/>
<path d="M429.20 82.22L431.72 86.42L426.68 86.42Z"/>
<path d="M432.30 83.82L434.82 88.02L429.78 88.02Z"/>
<path d="M456.00 80.62L458.52 84.82L453.48 84.82Z"/>
<path d="M468.30 80.82L470.82 85.02L465.78 85.02Z"/>
<path d="M473.20 80.12L475.72 84.32L470.68 84.32Z"/>
<path d="M476.90 80.82L479.42 85.02L474.38 85.02Z"/>
<path d="M478.90 81.22L481.42 85.42L476.38 85.42Z"/>
<path d="M505.50 80.82L508.02 85.02L502.98 85.02Z"/>
<path d="M501.80 83.82L504.32 88.02L499.28 88.02Z"/>
<path d="M447.80 83.82L450.32 88.02L445.28 88.02Z"/>
<path d="M515.70 68.32L518.22 72.52L513.18 72.52Z"/>
<path d="M517.70 74.02L520.22 78.22L515.18 78.22Z"/>
<path d="M519.40 73.22L521.92 77.42L516.88 77.42Z"/>
<path d="M521.80 76.72L524.32 80.92L519.28 80.92Z"/>
<path d="M524.30 76.72L526.82 80.92L521.78 80.92Z"/>
<path d="M528.40 69.52L530.92 73.72L525.88 73.72Z"/>
<path d="M529.00 81.62L531.52 85.82L526.48 85.82Z"/>
<path d="M551.10 74.12L553.62 78.32L548.58 78.32Z"/>
<path d="M565.80 66.72L568.32 70.92L563.28 70.92Z"/>
<path d="M410.60 131.58L413.12 127.38L408.08 127.38Z"/>
<path d="M425.80 161.68L428.32 157.48L423.28 157.48Z"/>
<path d="M432.30 137.18L434.82 132.98L429.78 132.98Z"/>
<path d="M445.20 131.98L447.72 127.78L442.68 127.78Z"/>
<path d="M451.90 127.48L454.42 123.28L449.38 123.28Z"/>
<path d="M461.10 126.48L463.62 122.28L458.58 122.28Z"/>
<path d="M455.00 140.78L457.52 136.58L452.48 136.58Z"/>
<path d="M457.40 140.78L459.92 136.58L454.88 136.58Z"/>
<path d="M468.10 137.18L470.62 132.98L465.58 132.98Z"/>
<path d="M505.10 129.58L507.62 125.38L502.58 125.38Z"/>
<path d="M517.10 125.88L519.62 121.68L514.58 121.68Z"/>
</g>
<circle cx="12.35" cy="236.0" r="6.0" fill="#7030a0"/>
<text x="23.6" y="239.4" font-size="8" fill="#0d0d0d">Cellular processes and signalling</text>
<circle cx="181.4" cy="236.0" r="6.0" fill="#12e612"/>
<text x="192.2" y="239.4" font-size="8" fill="#0d0d0d">Energy</text>
<circle cx="252.8" cy="236.0" r="6.0" fill="#fdd145"/>
<text x="263.7" y="239.4" font-size="8" fill="#0d0d0d">Information storage and processing</text>
<circle cx="423.3" cy="236.0" r="6.0" fill="#55befb"/>
<text x="434.1" y="239.4" font-size="8" fill="#0d0d0d">Metabolism</text>
<circle cx="502.3" cy="236.0" r="6.0" fill="#08704f"/>
<text x="513.1" y="239.4" font-size="8" fill="#0d0d0d">Phycobilisome</text>
<circle cx="594.7" cy="236.0" r="6.0" fill="#b4b4b4"/>
<text x="605.1" y="239.4" font-size="8" fill="#0d0d0d">Other categories</text>
<rect x="38.50" y="355.93" width="21.70" height="53.42" fill="#7030a0"/>
<rect x="60.20" y="387.98" width="21.80" height="21.37" fill="#12e612"/>
<rect x="82.00" y="355.93" width="22.00" height="53.42" fill="#fdd145"/>
<rect x="104.00" y="345.25" width="22.00" height="64.10" fill="#55befb"/>
<rect x="126.00" y="387.98" width="21.70" height="21.37" fill="#08704f"/>
<rect x="148.40" y="331.00" width="21.10" height="78.35" fill="#e8e8e8"/>
<path d="M38.50 266.90V409.35" stroke="#8a8a8a" stroke-width="0.9" fill="none"/>
<path d="M38.50 409.35H169.50" stroke="#555" stroke-width="0.9" fill="none"/>
<path d="M36.20 409.35H38.50" stroke="#8a8a8a" stroke-width="0.8"/>
<text x="33.30" y="411.95" font-size="7.3" text-anchor="end" fill="#0d0d0d">0</text>
<path d="M36.20 391.54H38.50" stroke="#8a8a8a" stroke-width="0.8"/>
<text x="33.30" y="394.14" font-size="7.3" text-anchor="end" fill="#0d0d0d">5</text>
<path d="M36.20 373.74H38.50" stroke="#8a8a8a" stroke-width="0.8"/>
<text x="33.30" y="376.34" font-size="7.3" text-anchor="end" fill="#0d0d0d">10</text>
<path d="M36.20 355.93H38.50" stroke="#8a8a8a" stroke-width="0.8"/>
<text x="33.30" y="358.53" font-size="7.3" text-anchor="end" fill="#0d0d0d">15</text>
<path d="M36.20 338.12H38.50" stroke="#8a8a8a" stroke-width="0.8"/>
<text x="33.30" y="340.73" font-size="7.3" text-anchor="end" fill="#0d0d0d">20</text>
<path d="M36.20 320.32H38.50" stroke="#8a8a8a" stroke-width="0.8"/>
<text x="33.30" y="322.92" font-size="7.3" text-anchor="end" fill="#0d0d0d">25</text>
<path d="M36.20 302.51H38.50" stroke="#8a8a8a" stroke-width="0.8"/>
<text x="33.30" y="305.11" font-size="7.3" text-anchor="end" fill="#0d0d0d">30</text>
<path d="M36.20 284.71H38.50" stroke="#8a8a8a" stroke-width="0.8"/>
<text x="33.30" y="287.31" font-size="7.3" text-anchor="end" fill="#0d0d0d">35</text>
<path d="M36.20 266.90H38.50" stroke="#8a8a8a" stroke-width="0.8"/>
<text x="33.30" y="269.50" font-size="7.3" text-anchor="end" fill="#0d0d0d">40</text>
<text x="104.00" y="264.4" font-size="7.8" text-anchor="middle" fill="#0d0d0d">Cleavages</text>
<text transform="translate(17.10,338) rotate(-90)" font-size="8" text-anchor="middle" fill="#0d0d0d">No. of cleavages or proteins</text>
<text x="180.70" y="422.8" font-size="8" text-anchor="middle" fill="#0d0d0d">Protein category</text>
<rect x="194.30" y="363.77" width="21.90" height="45.58" fill="#7030a0"/>
<rect x="216.20" y="380.86" width="22.00" height="28.49" fill="#12e612"/>
<rect x="238.20" y="329.58" width="22.00" height="79.77" fill="#fdd145"/>
<rect x="260.20" y="340.97" width="21.70" height="68.38" fill="#55befb"/>
<rect x="281.90" y="386.56" width="22.00" height="22.79" fill="#08704f"/>
<rect x="304.40" y="318.18" width="21.40" height="91.17" fill="#e8e8e8"/>
<path d="M194.30 266.90V409.35" stroke="#8a8a8a" stroke-width="0.9" fill="none"/>
<path d="M194.30 409.35H325.80" stroke="#555" stroke-width="0.9" fill="none"/>
<path d="M192.00 409.35H194.30" stroke="#8a8a8a" stroke-width="0.8"/>
<text x="189.10" y="411.95" font-size="7.3" text-anchor="end" fill="#0d0d0d">0</text>
<path d="M192.00 380.86H194.30" stroke="#8a8a8a" stroke-width="0.8"/>
<text x="189.10" y="383.46" font-size="7.3" text-anchor="end" fill="#0d0d0d">5</text>
<path d="M192.00 352.37H194.30" stroke="#8a8a8a" stroke-width="0.8"/>
<text x="189.10" y="354.97" font-size="7.3" text-anchor="end" fill="#0d0d0d">10</text>
<path d="M192.00 323.88H194.30" stroke="#8a8a8a" stroke-width="0.8"/>
<text x="189.10" y="326.48" font-size="7.3" text-anchor="end" fill="#0d0d0d">15</text>
<path d="M192.00 295.39H194.30" stroke="#8a8a8a" stroke-width="0.8"/>
<text x="189.10" y="297.99" font-size="7.3" text-anchor="end" fill="#0d0d0d">20</text>
<path d="M192.00 266.90H194.30" stroke="#8a8a8a" stroke-width="0.8"/>
<text x="189.10" y="269.50" font-size="7.3" text-anchor="end" fill="#0d0d0d">25</text>
<text x="260.00" y="264.4" font-size="7.8" text-anchor="middle" fill="#0d0d0d">Unique proteins</text>
<rect x="389.30" y="309.63" width="22.00" height="99.72" fill="#7030a0"/>
<rect x="411.30" y="373.74" width="22.00" height="35.61" fill="#12e612"/>
<rect x="433.30" y="352.37" width="21.90" height="56.98" fill="#fdd145"/>
<rect x="455.20" y="348.81" width="21.70" height="60.54" fill="#55befb"/>
<rect x="476.90" y="270.46" width="21.80" height="138.89" fill="#08704f"/>
<rect x="499.40" y="295.39" width="20.80" height="113.96" fill="#e8e8e8"/>
<path d="M389.30 266.90V409.35" stroke="#8a8a8a" stroke-width="0.9" fill="none"/>
<path d="M389.30 409.35H520.20" stroke="#555" stroke-width="0.9" fill="none"/>
<path d="M387.00 409.35H389.30" stroke="#8a8a8a" stroke-width="0.8"/>
<text x="384.10" y="411.95" font-size="7.3" text-anchor="end" fill="#0d0d0d">0</text>
<path d="M387.00 391.54H389.30" stroke="#8a8a8a" stroke-width="0.8"/>
<text x="384.10" y="394.14" font-size="7.3" text-anchor="end" fill="#0d0d0d">5</text>
<path d="M387.00 373.74H389.30" stroke="#8a8a8a" stroke-width="0.8"/>
<text x="384.10" y="376.34" font-size="7.3" text-anchor="end" fill="#0d0d0d">10</text>
<path d="M387.00 355.93H389.30" stroke="#8a8a8a" stroke-width="0.8"/>
<text x="384.10" y="358.53" font-size="7.3" text-anchor="end" fill="#0d0d0d">15</text>
<path d="M387.00 338.12H389.30" stroke="#8a8a8a" stroke-width="0.8"/>
<text x="384.10" y="340.73" font-size="7.3" text-anchor="end" fill="#0d0d0d">20</text>
<path d="M387.00 320.32H389.30" stroke="#8a8a8a" stroke-width="0.8"/>
<text x="384.10" y="322.92" font-size="7.3" text-anchor="end" fill="#0d0d0d">25</text>
<path d="M387.00 302.51H389.30" stroke="#8a8a8a" stroke-width="0.8"/>
<text x="384.10" y="305.11" font-size="7.3" text-anchor="end" fill="#0d0d0d">30</text>
<path d="M387.00 284.71H389.30" stroke="#8a8a8a" stroke-width="0.8"/>
<text x="384.10" y="287.31" font-size="7.3" text-anchor="end" fill="#0d0d0d">35</text>
<path d="M387.00 266.90H389.30" stroke="#8a8a8a" stroke-width="0.8"/>
<text x="384.10" y="269.50" font-size="7.3" text-anchor="end" fill="#0d0d0d">40</text>
<text x="455.00" y="264.4" font-size="7.8" text-anchor="middle" fill="#0d0d0d">Cleavages</text>
<text transform="translate(367.90,338) rotate(-90)" font-size="8" text-anchor="middle" fill="#0d0d0d">No. of cleavages or proteins</text>
<text x="531.50" y="422.8" font-size="8" text-anchor="middle" fill="#0d0d0d">Protein category</text>
<rect x="544.00" y="352.37" width="21.70" height="56.98" fill="#7030a0"/>
<rect x="565.70" y="363.77" width="22.00" height="45.58" fill="#12e612"/>
<rect x="587.70" y="369.46" width="21.90" height="39.89" fill="#fdd145"/>
<rect x="609.60" y="346.67" width="22.00" height="62.68" fill="#55befb"/>
<rect x="631.60" y="358.07" width="21.70" height="51.28" fill="#08704f"/>
<rect x="653.80" y="278.30" width="21.20" height="131.05" fill="#e8e8e8"/>
<path d="M544.00 266.90V409.35" stroke="#8a8a8a" stroke-width="0.9" fill="none"/>
<path d="M544.00 409.35H675.00" stroke="#555" stroke-width="0.9" fill="none"/>
<path d="M541.70 409.35H544.00" stroke="#8a8a8a" stroke-width="0.8"/>
<text x="538.80" y="411.95" font-size="7.3" text-anchor="end" fill="#0d0d0d">0</text>
<path d="M541.70 380.86H544.00" stroke="#8a8a8a" stroke-width="0.8"/>
<text x="538.80" y="383.46" font-size="7.3" text-anchor="end" fill="#0d0d0d">5</text>
<path d="M541.70 352.37H544.00" stroke="#8a8a8a" stroke-width="0.8"/>
<text x="538.80" y="354.97" font-size="7.3" text-anchor="end" fill="#0d0d0d">10</text>
<path d="M541.70 323.88H544.00" stroke="#8a8a8a" stroke-width="0.8"/>
<text x="538.80" y="326.48" font-size="7.3" text-anchor="end" fill="#0d0d0d">15</text>
<path d="M541.70 295.39H544.00" stroke="#8a8a8a" stroke-width="0.8"/>
<text x="538.80" y="297.99" font-size="7.3" text-anchor="end" fill="#0d0d0d">20</text>
<path d="M541.70 266.90H544.00" stroke="#8a8a8a" stroke-width="0.8"/>
<text x="538.80" y="269.50" font-size="7.3" text-anchor="end" fill="#0d0d0d">25</text>
<text x="609.60" y="264.4" font-size="7.8" text-anchor="middle" fill="#0d0d0d">Unique proteins</text>
<rect x="4.70" y="663.00" width="323.80" height="3.6" fill="url(#g2)"/>
<rect x="3.20" y="633.80" width="324.80" height="29.20" fill="url(#g1)"/>
<polygon points="3.20,633.80 14.90,648.40 3.20,663.00" fill="#0a9e52" opacity="0.2"/>
<polygon points="328.00,633.80 316.30,648.40 328.00,663.00" fill="#0a9e52" opacity="0.2"/>
<text x="165.60" y="652.8" font-size="7.9" text-anchor="middle" fill="#eafff2">Thylakoid membrane</text>
<rect x="356.20" y="663.00" width="323.80" height="3.6" fill="url(#g4)"/>
<rect x="354.70" y="633.80" width="324.80" height="29.20" fill="url(#g3)"/>
<polygon points="354.70,633.80 366.40,648.40 354.70,663.00" fill="#0a9e52" opacity="0.2"/>
<polygon points="679.50,633.80 667.80,648.40 679.50,663.00" fill="#0a9e52" opacity="0.2"/>
<text x="517.10" y="652.8" font-size="7.9" text-anchor="middle" fill="#eafff2">Thylakoid membrane</text>
<polygon points="118,560 140,538 152,560 146,576 118,585" fill="url(#g5)"/>
<polygon points="186,560 200,540 222,556 220,578 190,578" fill="url(#g6)"/>
<path d="M135.68 530.36A29.30 13.90 -50.90 1 1 98.72 575.84A29.30 13.90 -50.90 1 1 135.68 530.36Z" fill="#ffffff" filter="url(#ish)"/><path d="M135.68 530.36A29.30 13.90 -50.90 1 1 98.72 575.84A29.30 13.90 -50.90 1 1 135.68 530.36Z" fill="none" stroke="#000" stroke-width="1.35"/>
<path d="M122.38 519.56A29.30 13.90 -50.90 1 1 85.42 565.04A29.30 13.90 -50.90 1 1 122.38 519.56Z" fill="#ffffff" filter="url(#ish)"/><path d="M122.38 519.56A29.30 13.90 -50.90 1 1 85.42 565.04A29.30 13.90 -50.90 1 1 122.38 519.56Z" fill="none" stroke="#000" stroke-width="1.35"/>
<path d="M109.08 508.76A29.30 13.90 -50.90 1 1 72.12 554.24A29.30 13.90 -50.90 1 1 109.08 508.76Z" fill="url(#g7)" filter="url(#ish)"/><path d="M109.08 508.76A29.30 13.90 -50.90 1 1 72.12 554.24A29.30 13.90 -50.90 1 1 109.08 508.76Z" fill="none" stroke="#000" stroke-width="1.35"/>
<path d="M95.48 497.76A29.30 13.90 -50.90 1 1 58.52 543.24A29.30 13.90 -50.90 1 1 95.48 497.76Z" fill="url(#g8)" filter="url(#ish)"/><path d="M95.48 497.76A29.30 13.90 -50.90 1 1 58.52 543.24A29.30 13.90 -50.90 1 1 95.48 497.76Z" fill="none" stroke="#000" stroke-width="1.35"/>
<path d="M82.48 487.16A29.30 13.90 -50.90 1 1 45.52 532.64A29.30 13.90 -50.90 1 1 82.48 487.16Z" fill="url(#g9)" filter="url(#ish)"/><path d="M82.48 487.16A29.30 13.90 -50.90 1 1 45.52 532.64A29.30 13.90 -50.90 1 1 82.48 487.16Z" fill="none" stroke="#000" stroke-width="1.35"/>
<path d="M236.03 582.56A29.30 13.90 57.30 1 1 204.37 533.24A29.30 13.90 57.30 1 1 236.03 582.56Z" fill="#ffffff" filter="url(#ishL)"/><path d="M236.03 582.56A29.30 13.90 57.30 1 1 204.37 533.24A29.30 13.90 57.30 1 1 236.03 582.56Z" fill="none" stroke="#000" stroke-width="1.35"/>
<path d="M250.43 573.36A29.30 13.90 57.30 1 1 218.77 524.04A29.30 13.90 57.30 1 1 250.43 573.36Z" fill="#ffffff" filter="url(#ishL)"/><path d="M250.43 573.36A29.30 13.90 57.30 1 1 218.77 524.04A29.30 13.90 57.30 1 1 250.43 573.36Z" fill="none" stroke="#000" stroke-width="1.35"/>
<path d="M264.83 564.06A29.30 13.90 57.30 1 1 233.17 514.74A29.30 13.90 57.30 1 1 264.83 564.06Z" fill="url(#g10)" filter="url(#ishL)"/><path d="M264.83 564.06A29.30 13.90 57.30 1 1 233.17 514.74A29.30 13.90 57.30 1 1 264.83 564.06Z" fill="none" stroke="#000" stroke-width="1.35"/>
<path d="M278.93 554.66A29.30 13.90 57.30 1 1 247.27 505.34A29.30 13.90 57.30 1 1 278.93 554.66Z" fill="url(#g11)" filter="url(#ishL)"/><path d="M278.93 554.66A29.30 13.90 57.30 1 1 247.27 505.34A29.30 13.90 57.30 1 1 278.93 554.66Z" fill="none" stroke="#000" stroke-width="1.35"/>
<path d="M293.63 545.56A29.30 13.90 57.30 1 1 261.97 496.24A29.30 13.90 57.30 1 1 293.63 545.56Z" fill="url(#g12)" filter="url(#ishL)"/><path d="M293.63 545.56A29.30 13.90 57.30 1 1 261.97 496.24A29.30 13.90 57.30 1 1 293.63 545.56Z" fill="none" stroke="#000" stroke-width="1.35"/>
<circle cx="143.00" cy="597.00" r="30.30" fill="#fff" filter="url(#ish)"/><circle cx="143.00" cy="597.00" r="30.30" fill="none" stroke="#000" stroke-width="1.35"/>
<circle cx="166.00" cy="544.40" r="30.30" fill="#fff" filter="url(#ish)"/><circle cx="166.00" cy="544.40" r="30.30" fill="none" stroke="#000" stroke-width="1.35"/>
<circle cx="188.80" cy="596.60" r="30.30" fill="#fff" filter="url(#ish)"/><circle cx="188.80" cy="596.60" r="30.30" fill="none" stroke="#000" stroke-width="1.35"/>
<path d="M181.24 514.16A29.30 13.90 -27.30 1 1 129.16 541.04A29.30 13.90 -27.30 1 1 181.24 514.16Z" fill="url(#g13)" filter="url(#ish)"/><path d="M181.24 514.16A29.30 13.90 -27.30 1 1 129.16 541.04A29.30 13.90 -27.30 1 1 181.24 514.16Z" fill="none" stroke="#000" stroke-width="1.35"/>
<path d="M171.44 498.96A29.30 13.90 -27.30 1 1 119.36 525.84A29.30 13.90 -27.30 1 1 171.44 498.96Z" fill="#ffffff" filter="url(#ish)"/><path d="M171.44 498.96A29.30 13.90 -27.30 1 1 119.36 525.84A29.30 13.90 -27.30 1 1 171.44 498.96Z" fill="none" stroke="#000" stroke-width="1.35"/>
<path d="M164.34 483.96A29.30 13.90 -27.30 1 1 112.26 510.84A29.30 13.90 -27.30 1 1 164.34 483.96Z" fill="#ffffff" filter="url(#ish)"/><path d="M164.34 483.96A29.30 13.90 -27.30 1 1 112.26 510.84A29.30 13.90 -27.30 1 1 164.34 483.96Z" fill="none" stroke="#000" stroke-width="1.35"/>
<path d="M156.04 469.46A29.30 13.90 -27.30 1 1 103.96 496.34A29.30 13.90 -27.30 1 1 156.04 469.46Z" fill="url(#g14)" filter="url(#ish)"/><path d="M156.04 469.46A29.30 13.90 -27.30 1 1 103.96 496.34A29.30 13.90 -27.30 1 1 156.04 469.46Z" fill="none" stroke="#000" stroke-width="1.35"/>
<path d="M148.24 454.96A29.30 13.90 -27.30 1 1 96.16 481.84A29.30 13.90 -27.30 1 1 148.24 454.96Z" fill="url(#g15)" filter="url(#ish)"/><path d="M148.24 454.96A29.30 13.90 -27.30 1 1 96.16 481.84A29.30 13.90 -27.30 1 1 148.24 454.96Z" fill="none" stroke="#000" stroke-width="1.35"/>
<path d="M140.54 440.76A29.30 13.90 -27.30 1 1 88.46 467.64A29.30 13.90 -27.30 1 1 140.54 440.76Z" fill="url(#g16)" filter="url(#ish)"/><path d="M140.54 440.76A29.30 13.90 -27.30 1 1 88.46 467.64A29.30 13.90 -27.30 1 1 140.54 440.76Z" fill="none" stroke="#000" stroke-width="1.35"/>
<path d="M210.62 545.34A29.30 13.90 34.60 1 1 162.38 512.06A29.30 13.90 34.60 1 1 210.62 545.34Z" fill="url(#g17)" filter="url(#ishL)"/><path d="M210.62 545.34A29.30 13.90 34.60 1 1 162.38 512.06A29.30 13.90 34.60 1 1 210.62 545.34Z" fill="none" stroke="#000" stroke-width="1.35"/>
<path d="M219.92 531.84A29.30 13.90 34.60 1 1 171.68 498.56A29.30 13.90 34.60 1 1 219.92 531.84Z" fill="#ffffff" filter="url(#ishL)"/><path d="M219.92 531.84A29.30 13.90 34.60 1 1 171.68 498.56A29.30 13.90 34.60 1 1 219.92 531.84Z" fill="none" stroke="#000" stroke-width="1.35"/>
<path d="M228.92 518.34A29.30 13.90 34.60 1 1 180.68 485.06A29.30 13.90 34.60 1 1 228.92 518.34Z" fill="#ffffff" filter="url(#ishL)"/><path d="M228.92 518.34A29.30 13.90 34.60 1 1 180.68 485.06A29.30 13.90 34.60 1 1 228.92 518.34Z" fill="none" stroke="#000" stroke-width="1.35"/>
<path d="M238.12 505.54A29.30 13.90 34.60 1 1 189.88 472.26A29.30 13.90 34.60 1 1 238.12 505.54Z" fill="url(#g18)" filter="url(#ishL)"/><path d="M238.12 505.54A29.30 13.90 34.60 1 1 189.88 472.26A29.30 13.90 34.60 1 1 238.12 505.54Z" fill="none" stroke="#000" stroke-width="1.35"/>
<path d="M247.62 491.54A29.30 13.90 34.60 1 1 199.38 458.26A29.30 13.90 34.60 1 1 247.62 491.54Z" fill="url(#g19)" filter="url(#ishL)"/><path d="M247.62 491.54A29.30 13.90 34.60 1 1 199.38 458.26A29.30 13.90 34.60 1 1 247.62 491.54Z" fill="none" stroke="#000" stroke-width="1.35"/>
<path d="M257.22 477.84A29.30 13.90 34.60 1 1 208.98 444.56A29.30 13.90 34.60 1 1 257.22 477.84Z" fill="url(#g20)" filter="url(#ishL)"/><path d="M257.22 477.84A29.30 13.90 34.60 1 1 208.98 444.56A29.30 13.90 34.60 1 1 257.22 477.84Z" fill="none" stroke="#000" stroke-width="1.35"/>
<path d="M107.71 625.36A29.30 13.90 101.00 1 1 118.89 567.84A29.30 13.90 101.00 1 1 107.71 625.36Z" fill="url(#g21)" filter="url(#ish)"/><path d="M107.71 625.36A29.30 13.90 101.00 1 1 118.89 567.84A29.30 13.90 101.00 1 1 107.71 625.36Z" fill="none" stroke="#000" stroke-width="1.35"/>
<path d="M90.76 622.41A29.30 13.90 101.00 1 1 101.94 564.89A29.30 13.90 101.00 1 1 90.76 622.41Z" fill="#ffffff" filter="url(#ish)"/><path d="M90.76 622.41A29.30 13.90 101.00 1 1 101.94 564.89A29.30 13.90 101.00 1 1 90.76 622.41Z" fill="none" stroke="#000" stroke-width="1.35"/>
<path d="M73.66 618.86A29.30 13.90 101.00 1 1 84.84 561.34A29.30 13.90 101.00 1 1 73.66 618.86Z" fill="#ffffff" filter="url(#ish)"/><path d="M73.66 618.86A29.30 13.90 101.00 1 1 84.84 561.34A29.30 13.90 101.00 1 1 73.66 618.86Z" fill="none" stroke="#000" stroke-width="1.35"/>
<path d="M56.81 615.76A29.30 13.90 101.00 1 1 67.99 558.24A29.30 13.90 101.00 1 1 56.81 615.76Z" fill="url(#g22)" filter="url(#ish)"/><path d="M56.81 615.76A29.30 13.90 101.00 1 1 67.99 558.24A29.30 13.90 101.00 1 1 56.81 615.76Z" fill="none" stroke="#000" stroke-width="1.35"/>
<path d="M40.01 612.06A29.30 13.90 101.00 1 1 51.19 554.54A29.30 13.90 101.00 1 1 40.01 612.06Z" fill="url(#g23)" filter="url(#ish)"/><path d="M40.01 612.06A29.30 13.90 101.00 1 1 51.19 554.54A29.30 13.90 101.00 1 1 40.01 612.06Z" fill="none" stroke="#000" stroke-width="1.35"/>
<path d="M22.81 608.76A29.30 13.90 101.00 1 1 33.99 551.24A29.30 13.90 101.00 1 1 22.81 608.76Z" fill="url(#g24)" filter="url(#ish)"/><path d="M22.81 608.76A29.30 13.90 101.00 1 1 33.99 551.24A29.30 13.90 101.00 1 1 22.81 608.76Z" fill="none" stroke="#000" stroke-width="1.35"/>
<path d="M215.35 568.09A29.90 11.80 -94.50 1 1 220.05 627.71A29.90 11.80 -94.50 1 1 215.35 568.09Z" fill="url(#g25)" filter="url(#ishL)"/><path d="M215.35 568.09A29.90 11.80 -94.50 1 1 220.05 627.71A29.90 11.80 -94.50 1 1 215.35 568.09Z" fill="none" stroke="#000" stroke-width="1.35"/>
<path d="M231.85 566.99A29.90 11.40 -94.50 1 1 236.55 626.61A29.90 11.40 -94.50 1 1 231.85 566.99Z" fill="#ffffff" filter="url(#ishL)"/><path d="M231.85 566.99A29.90 11.40 -94.50 1 1 236.55 626.61A29.90 11.40 -94.50 1 1 231.85 566.99Z" fill="none" stroke="#000" stroke-width="1.35"/>
<path d="M248.45 565.29A29.90 11.40 -94.50 1 1 253.15 624.91A29.90 11.40 -94.50 1 1 248.45 565.29Z" fill="#ffffff" filter="url(#ishL)"/><path d="M248.45 565.29A29.90 11.40 -94.50 1 1 253.15 624.91A29.90 11.40 -94.50 1 1 248.45 565.29Z" fill="none" stroke="#000" stroke-width="1.35"/>
<path d="M265.55 564.29A29.90 11.40 -94.50 1 1 270.25 623.91A29.90 11.40 -94.50 1 1 265.55 564.29Z" fill="url(#g26)" filter="url(#ishL)"/><path d="M265.55 564.29A29.90 11.40 -94.50 1 1 270.25 623.91A29.90 11.40 -94.50 1 1 265.55 564.29Z" fill="none" stroke="#000" stroke-width="1.35"/>
<path d="M282.55 563.39A29.90 11.40 -94.50 1 1 287.25 623.01A29.90 11.40 -94.50 1 1 282.55 563.39Z" fill="url(#g27)" filter="url(#ishL)"/><path d="M282.55 563.39A29.90 11.40 -94.50 1 1 287.25 623.01A29.90 11.40 -94.50 1 1 282.55 563.39Z" fill="none" stroke="#000" stroke-width="1.35"/>
<path d="M300.53 562.04A29.90 13.20 -95.50 1 1 306.27 621.56A29.90 13.20 -95.50 1 1 300.53 562.04Z" fill="url(#g28)" filter="url(#ishL)"/><path d="M300.53 562.04A29.90 13.20 -95.50 1 1 306.27 621.56A29.90 13.20 -95.50 1 1 300.53 562.04Z" fill="none" stroke="#000" stroke-width="1.35"/>
<text transform="translate(235.20,463.80) rotate(33)" font-size="7.4" text-anchor="middle" fill="#111">PEII</text>
<text transform="translate(201.60,507.60) rotate(33)" font-size="7.4" text-anchor="middle" fill="#111">PEI</text>
<text transform="translate(184.20,535.40) rotate(33)" font-size="7.4" text-anchor="middle" fill="#111">PC</text>
<text x="189.70" y="583.6" font-size="7.8" text-anchor="middle" fill="#111">APC</text>
<polygon points="192.00,623.70 196.10,626.60 196.10,632.40 192.00,635.30 187.90,632.40 187.90,626.60" fill="#e23ef2"/><polygon points="187.90,626.60 192.00,623.70 192.00,635.30 187.90,632.40" fill="#f590ff" opacity="0.6"/>
<polygon points="201.00,598.30 203.65,594.30 208.95,594.30 211.60,598.30 208.95,602.30 203.65,602.30" fill="url(#hexw)"/>
<polygon points="217.10,597.60 219.75,593.60 225.05,593.60 227.70,597.60 225.05,601.60 219.75,601.60" fill="url(#hexw)"/>
<polygon points="235.50,595.20 238.15,591.20 243.45,591.20 246.10,595.20 243.45,599.20 238.15,599.20" fill="url(#hexw)"/>
<polygon points="251.60,595.20 254.25,591.20 259.55,591.20 262.20,595.20 259.55,599.20 254.25,599.20" fill="url(#hexw)"/>
<polygon points="286.40,593.70 289.05,589.70 294.35,589.70 297.00,593.70 294.35,597.70 289.05,597.70" fill="url(#hexw)"/>
<polygon points="270.20,594.00 272.85,590.00 278.15,590.00 280.80,594.00 278.15,598.00 272.85,598.00" fill="#8a3c0c"/><polygon points="272.85,590.00 278.15,590.00 280.80,594.00 275.50,592.67 270.20,594.00" fill="#c0702a" opacity="0.55"/>
<polygon points="469.6,560 491.6,538 503.6,560 497.6,576 469.6,585" fill="#1cbef6"/>
<polygon points="537.6,560 551.6,540 573.6,556 571.6,578 541.6,578" fill="#1cbef6"/>
<path d="M487.28 530.36A29.30 13.90 -50.90 1 1 450.32 575.84A29.30 13.90 -50.90 1 1 487.28 530.36Z" fill="#f99a62" filter="url(#ish)"/><path d="M487.28 530.36A29.30 13.90 -50.90 1 1 450.32 575.84A29.30 13.90 -50.90 1 1 487.28 530.36Z" fill="none" stroke="#000" stroke-width="1.35"/>
<path d="M473.98 519.56A29.30 13.90 -50.90 1 1 437.02 565.04A29.30 13.90 -50.90 1 1 473.98 519.56Z" fill="#f99a62" filter="url(#ish)"/><path d="M473.98 519.56A29.30 13.90 -50.90 1 1 437.02 565.04A29.30 13.90 -50.90 1 1 473.98 519.56Z" fill="none" stroke="#000" stroke-width="1.35"/>
<path d="M460.68 508.76A29.30 13.90 -50.90 1 1 423.72 554.24A29.30 13.90 -50.90 1 1 460.68 508.76Z" fill="#ff3c3c" filter="url(#ish)"/><path d="M460.68 508.76A29.30 13.90 -50.90 1 1 423.72 554.24A29.30 13.90 -50.90 1 1 460.68 508.76Z" fill="none" stroke="#000" stroke-width="1.35"/>
<path d="M447.08 497.76A29.30 13.90 -50.90 1 1 410.12 543.24A29.30 13.90 -50.90 1 1 447.08 497.76Z" fill="#ff3c3c" filter="url(#ish)"/><path d="M447.08 497.76A29.30 13.90 -50.90 1 1 410.12 543.24A29.30 13.90 -50.90 1 1 447.08 497.76Z" fill="none" stroke="#000" stroke-width="1.35"/>
<path d="M434.08 487.16A29.30 13.90 -50.90 1 1 397.12 532.64A29.30 13.90 -50.90 1 1 434.08 487.16Z" fill="#ff3c3c" filter="url(#ish)"/><path d="M434.08 487.16A29.30 13.90 -50.90 1 1 397.12 532.64A29.30 13.90 -50.90 1 1 434.08 487.16Z" fill="none" stroke="#000" stroke-width="1.35"/>
<path d="M587.63 582.56A29.30 13.90 57.30 1 1 555.97 533.24A29.30 13.90 57.30 1 1 587.63 582.56Z" fill="#f99a62" filter="url(#ishL)"/><path d="M587.63 582.56A29.30 13.90 57.30 1 1 555.97 533.24A29.30 13.90 57.30 1 1 587.63 582.56Z" fill="none" stroke="#000" stroke-width="1.35"/>
<path d="M602.03 573.36A29.30 13.90 57.30 1 1 570.37 524.04A29.30 13.90 57.30 1 1 602.03 573.36Z" fill="#f99a62" filter="url(#ishL)"/><path d="M602.03 573.36A29.30 13.90 57.30 1 1 570.37 524.04A29.30 13.90 57.30 1 1 602.03 573.36Z" fill="none" stroke="#000" stroke-width="1.35"/>
<path d="M616.43 564.06A29.30 13.90 57.30 1 1 584.77 514.74A29.30 13.90 57.30 1 1 616.43 564.06Z" fill="#ff3c3c" filter="url(#ishL)"/><path d="M616.43 564.06A29.30 13.90 57.30 1 1 584.77 514.74A29.30 13.90 57.30 1 1 616.43 564.06Z" fill="none" stroke="#000" stroke-width="1.35"/>
<path d="M630.53 554.66A29.30 13.90 57.30 1 1 598.87 505.34A29.30 13.90 57.30 1 1 630.53 554.66Z" fill="#ff3c3c" filter="url(#ishL)"/><path d="M630.53 554.66A29.30 13.90 57.30 1 1 598.87 505.34A29.30 13.90 57.30 1 1 630.53 554.66Z" fill="none" stroke="#000" stroke-width="1.35"/>
<path d="M645.23 545.56A29.30 13.90 57.30 1 1 613.57 496.24A29.30 13.90 57.30 1 1 645.23 545.56Z" fill="#ff3c3c" filter="url(#ishL)"/><path d="M645.23 545.56A29.30 13.90 57.30 1 1 613.57 496.24A29.30 13.90 57.30 1 1 645.23 545.56Z" fill="none" stroke="#000" stroke-width="1.35"/>
<circle cx="494.60" cy="597.00" r="30.30" fill="#fff" filter="url(#ish)"/><g clip-path="url(#cg29)"><polygon points="499.10,595.00 499.10,629.30 462.30,629.30 462.30,608.00" fill="url(#g30)" filter="url(#soft)"/></g><circle cx="494.60" cy="597.00" r="30.30" fill="none" stroke="#000" stroke-width="1.35"/>
<circle cx="517.60" cy="544.40" r="30.30" fill="#fff" filter="url(#ish)"/><g clip-path="url(#cg31)"><polygon points="522.10,542.40 522.10,576.70 485.30,576.70 485.30,555.40" fill="url(#g32)" filter="url(#soft)"/></g><circle cx="517.60" cy="544.40" r="30.30" fill="none" stroke="#000" stroke-width="1.35"/>
<circle cx="540.40" cy="596.60" r="30.30" fill="#fff" filter="url(#ish)"/><g clip-path="url(#cg33)"><polygon points="544.90,594.60 544.90,628.90 508.10,628.90 508.10,607.60" fill="url(#g34)" filter="url(#soft)"/></g><circle cx="540.40" cy="596.60" r="30.30" fill="none" stroke="#000" stroke-width="1.35"/>
<path d="M532.84 514.16A29.30 13.90 -27.30 1 1 480.76 541.04A29.30 13.90 -27.30 1 1 532.84 514.16Z" fill="#1cbef6" filter="url(#ish)"/><path d="M532.84 514.16A29.30 13.90 -27.30 1 1 480.76 541.04A29.30 13.90 -27.30 1 1 532.84 514.16Z" fill="none" stroke="#000" stroke-width="1.35"/>
<path d="M523.04 498.96A29.30 13.90 -27.30 1 1 470.96 525.84A29.30 13.90 -27.30 1 1 523.04 498.96Z" fill="#f99a62" filter="url(#ish)"/><path d="M523.04 498.96A29.30 13.90 -27.30 1 1 470.96 525.84A29.30 13.90 -27.30 1 1 523.04 498.96Z" fill="none" stroke="#000" stroke-width="1.35"/>
<path d="M515.94 483.96A29.30 13.90 -27.30 1 1 463.86 510.84A29.30 13.90 -27.30 1 1 515.94 483.96Z" fill="#f99a62" filter="url(#ish)"/><path d="M515.94 483.96A29.30 13.90 -27.30 1 1 463.86 510.84A29.30 13.90 -27.30 1 1 515.94 483.96Z" fill="none" stroke="#000" stroke-width="1.35"/>
<path d="M507.64 469.46A29.30 13.90 -27.30 1 1 455.56 496.34A29.30 13.90 -27.30 1 1 507.64 469.46Z" fill="#ff3c3c" filter="url(#ish)"/><path d="M507.64 469.46A29.30 13.90 -27.30 1 1 455.56 496.34A29.30 13.90 -27.30 1 1 507.64 469.46Z" fill="none" stroke="#000" stroke-width="1.35"/>
<path d="M499.84 454.96A29.30 13.90 -27.30 1 1 447.76 481.84A29.30 13.90 -27.30 1 1 499.84 454.96Z" fill="#ff3c3c" filter="url(#ish)"/><path d="M499.84 454.96A29.30 13.90 -27.30 1 1 447.76 481.84A29.30 13.90 -27.30 1 1 499.84 454.96Z" fill="none" stroke="#000" stroke-width="1.35"/>
<path d="M492.14 440.76A29.30 13.90 -27.30 1 1 440.06 467.64A29.30 13.90 -27.30 1 1 492.14 440.76Z" fill="#ff3c3c" filter="url(#ish)"/><path d="M492.14 440.76A29.30 13.90 -27.30 1 1 440.06 467.64A29.30 13.90 -27.30 1 1 492.14 440.76Z" fill="none" stroke="#000" stroke-width="1.35"/>
<path d="M562.22 545.34A29.30 13.90 34.60 1 1 513.98 512.06A29.30 13.90 34.60 1 1 562.22 545.34Z" fill="#1cbef6" filter="url(#ishL)"/><path d="M562.22 545.34A29.30 13.90 34.60 1 1 513.98 512.06A29.30 13.90 34.60 1 1 562.22 545.34Z" fill="none" stroke="#000" stroke-width="1.35"/>
<path d="M571.52 531.84A29.30 13.90 34.60 1 1 523.28 498.56A29.30 13.90 34.60 1 1 571.52 531.84Z" fill="#f99a62" filter="url(#ishL)"/><path d="M571.52 531.84A29.30 13.90 34.60 1 1 523.28 498.56A29.30 13.90 34.60 1 1 571.52 531.84Z" fill="none" stroke="#000" stroke-width="1.35"/>
<path d="M580.52 518.34A29.30 13.90 34.60 1 1 532.28 485.06A29.30 13.90 34.60 1 1 580.52 518.34Z" fill="#f99a62" filter="url(#ishL)"/><path d="M580.52 518.34A29.30 13.90 34.60 1 1 532.28 485.06A29.30 13.90 34.60 1 1 580.52 518.34Z" fill="none" stroke="#000" stroke-width="1.35"/>
<path d="M589.72 505.54A29.30 13.90 34.60 1 1 541.48 472.26A29.30 13.90 34.60 1 1 589.72 505.54Z" fill="#ff3c3c" filter="url(#ishL)"/><path d="M589.72 505.54A29.30 13.90 34.60 1 1 541.48 472.26A29.30 13.90 34.60 1 1 589.72 505.54Z" fill="none" stroke="#000" stroke-width="1.35"/>
<path d="M599.22 491.54A29.30 13.90 34.60 1 1 550.98 458.26A29.30 13.90 34.60 1 1 599.22 491.54Z" fill="#ff3c3c" filter="url(#ishL)"/><path d="M599.22 491.54A29.30 13.90 34.60 1 1 550.98 458.26A29.30 13.90 34.60 1 1 599.22 491.54Z" fill="none" stroke="#000" stroke-width="1.35"/>
<path d="M608.82 477.84A29.30 13.90 34.60 1 1 560.58 444.56A29.30 13.90 34.60 1 1 608.82 477.84Z" fill="#ff3c3c" filter="url(#ishL)"/><path d="M608.82 477.84A29.30 13.90 34.60 1 1 560.58 444.56A29.30 13.90 34.60 1 1 608.82 477.84Z" fill="none" stroke="#000" stroke-width="1.35"/>
<path d="M459.31 625.36A29.30 13.90 101.00 1 1 470.49 567.84A29.30 13.90 101.00 1 1 459.31 625.36Z" fill="#1cbef6" filter="url(#ish)"/><path d="M459.31 625.36A29.30 13.90 101.00 1 1 470.49 567.84A29.30 13.90 101.00 1 1 459.31 625.36Z" fill="none" stroke="#000" stroke-width="1.35"/>
<path d="M442.36 622.41A29.30 13.90 101.00 1 1 453.54 564.89A29.30 13.90 101.00 1 1 442.36 622.41Z" fill="#f99a62" filter="url(#ish)"/><path d="M442.36 622.41A29.30 13.90 101.00 1 1 453.54 564.89A29.30 13.90 101.00 1 1 442.36 622.41Z" fill="none" stroke="#000" stroke-width="1.35"/>
<path d="M425.26 618.86A29.30 13.90 101.00 1 1 436.44 561.34A29.30 13.90 101.00 1 1 425.26 618.86Z" fill="#f99a62" filter="url(#ish)"/><path d="M425.26 618.86A29.30 13.90 101.00 1 1 436.44 561.34A29.30 13.90 101.00 1 1 425.26 618.86Z" fill="none" stroke="#000" stroke-width="1.35"/>
<path d="M408.41 615.76A29.30 13.90 101.00 1 1 419.59 558.24A29.30 13.90 101.00 1 1 408.41 615.76Z" fill="#ff3c3c" filter="url(#ish)"/><path d="M408.41 615.76A29.30 13.90 101.00 1 1 419.59 558.24A29.30 13.90 101.00 1 1 408.41 615.76Z" fill="none" stroke="#000" stroke-width="1.35"/>
<path d="M391.61 612.06A29.30 13.90 101.00 1 1 402.79 554.54A29.30 13.90 101.00 1 1 391.61 612.06Z" fill="#ff3c3c" filter="url(#ish)"/><path d="M391.61 612.06A29.30 13.90 101.00 1 1 402.79 554.54A29.30 13.90 101.00 1 1 391.61 612.06Z" fill="none" stroke="#000" stroke-width="1.35"/>
<path d="M374.41 608.76A29.30 13.90 101.00 1 1 385.59 551.24A29.30 13.90 101.00 1 1 374.41 608.76Z" fill="#ff3c3c" filter="url(#ish)"/><path d="M374.41 608.76A29.30 13.90 101.00 1 1 385.59 551.24A29.30 13.90 101.00 1 1 374.41 608.76Z" fill="none" stroke="#000" stroke-width="1.35"/>
<path d="M566.95 568.09A29.90 11.80 -94.50 1 1 571.65 627.71A29.90 11.80 -94.50 1 1 566.95 568.09Z" fill="#1cbef6" filter="url(#ishL)"/><path d="M566.95 568.09A29.90 11.80 -94.50 1 1 571.65 627.71A29.90 11.80 -94.50 1 1 566.95 568.09Z" fill="none" stroke="#000" stroke-width="1.35"/>
<path d="M583.45 566.99A29.90 11.40 -94.50 1 1 588.15 626.61A29.90 11.40 -94.50 1 1 583.45 566.99Z" fill="#f99a62" filter="url(#ishL)"/><path d="M583.45 566.99A29.90 11.40 -94.50 1 1 588.15 626.61A29.90 11.40 -94.50 1 1 583.45 566.99Z" fill="none" stroke="#000" stroke-width="1.35"/>
<path d="M600.05 565.29A29.90 11.40 -94.50 1 1 604.75 624.91A29.90 11.40 -94.50 1 1 600.05 565.29Z" fill="#f99a62" filter="url(#ishL)"/><path d="M600.05 565.29A29.90 11.40 -94.50 1 1 604.75 624.91A29.90 11.40 -94.50 1 1 600.05 565.29Z" fill="none" stroke="#000" stroke-width="1.35"/>
<path d="M617.15 564.29A29.90 11.40 -94.50 1 1 621.85 623.91A29.90 11.40 -94.50 1 1 617.15 564.29Z" fill="#ff3c3c" filter="url(#ishL)"/><path d="M617.15 564.29A29.90 11.40 -94.50 1 1 621.85 623.91A29.90 11.40 -94.50 1 1 617.15 564.29Z" fill="none" stroke="#000" stroke-width="1.35"/>
<path d="M634.15 563.39A29.90 11.40 -94.50 1 1 638.85 623.01A29.90 11.40 -94.50 1 1 634.15 563.39Z" fill="#ff3c3c" filter="url(#ishL)"/><path d="M634.15 563.39A29.90 11.40 -94.50 1 1 638.85 623.01A29.90 11.40 -94.50 1 1 634.15 563.39Z" fill="none" stroke="#000" stroke-width="1.35"/>
<path d="M652.13 562.04A29.90 13.20 -95.50 1 1 657.87 621.56A29.90 13.20 -95.50 1 1 652.13 562.04Z" fill="#ff3c3c" filter="url(#ishL)"/><path d="M652.13 562.04A29.90 13.20 -95.50 1 1 657.87 621.56A29.90 13.20 -95.50 1 1 652.13 562.04Z" fill="none" stroke="#000" stroke-width="1.35"/>
<text transform="translate(585.00,463.80) rotate(33)" font-size="7.4" text-anchor="middle" fill="#111">PEII</text>
<text transform="translate(553.20,507.60) rotate(33)" font-size="7.4" text-anchor="middle" fill="#111">PEI</text>
<text transform="translate(534.20,535.40) rotate(33)" font-size="7.4" text-anchor="middle" fill="#111">PC</text>
<text x="541.30" y="587.9" font-size="7.8" text-anchor="middle" fill="#111">APC</text>
<polygon points="543.60,623.70 547.70,626.60 547.70,632.40 543.60,635.30 539.50,632.40 539.50,626.60" fill="#ffffff"/><polygon points="539.50,626.60 543.60,623.70 543.60,635.30 539.50,632.40" fill="#d0d0d0" opacity="0.6"/>
<polygon points="552.60,598.30 555.25,594.30 560.55,594.30 563.20,598.30 560.55,602.30 555.25,602.30" fill="url(#hexw)"/>
<polygon points="568.50,597.40 571.15,593.40 576.45,593.40 579.10,597.40 576.45,601.40 571.15,601.40" fill="#1030e0"/><polygon points="571.15,593.40 576.45,593.40 579.10,597.40 573.80,596.07 568.50,597.40" fill="#4a70ff" opacity="0.55"/>
<polygon points="587.50,595.50 590.15,591.50 595.45,591.50 598.10,595.50 595.45,599.50 590.15,599.50" fill="url(#hexw)"/>
<polygon points="604.00,595.50 606.65,591.50 611.95,591.50 614.60,595.50 611.95,599.50 606.65,599.50" fill="#e8c060"/><polygon points="606.65,591.50 611.95,591.50 614.60,595.50 609.30,594.17 604.00,595.50" fill="#f8e0a0" opacity="0.55"/>
<polygon points="621.30,594.60 623.95,590.60 629.25,590.60 631.90,594.60 629.25,598.60 623.95,598.60" fill="#8a3c0c"/><polygon points="623.95,590.60 629.25,590.60 631.90,594.60 626.60,593.27 621.30,594.60" fill="#c0702a" opacity="0.55"/>
<polygon points="637.70,594.00 640.35,590.00 645.65,590.00 648.30,594.00 645.65,598.00 640.35,598.00" fill="url(#hexw)"/>
<path d="M46.80 678.9V840.8" stroke="#c4c4c4" stroke-width="1.3" fill="none"/>
<path d="M43.90 685.20H46.80" stroke="#666" stroke-width="0.8"/>
<text x="40.10" y="687.90" font-size="7.8" text-anchor="end" fill="#0d0d0d">22</text>
<path d="M43.90 721.30H46.80" stroke="#666" stroke-width="0.8"/>
<text x="40.10" y="724.00" font-size="7.8" text-anchor="end" fill="#0d0d0d">11</text>
<path d="M43.90 799.50H46.80" stroke="#666" stroke-width="0.8"/>
<text x="40.10" y="802.20" font-size="7.8" text-anchor="end" fill="#0d0d0d">−11</text>
<path d="M43.90 835.60H46.80" stroke="#666" stroke-width="0.8"/>
<text x="40.10" y="838.30" font-size="7.8" text-anchor="end" fill="#0d0d0d">−22</text>
<text transform="translate(21.50,759.9) rotate(-90)" font-size="8" text-anchor="middle" fill="#0d0d0d">Percentage difference</text>
<rect x="47.00" y="757.40" width="275.80" height="6.00" fill="#fff"/>
<path d="M82.40 757.40V763.40" stroke="#bdbdbd" stroke-width="0.8"/>
<path d="M116.60 757.40V763.40" stroke="#bdbdbd" stroke-width="0.8"/>
<path d="M150.90 757.40V763.40" stroke="#bdbdbd" stroke-width="0.8"/>
<path d="M185.30 757.40V763.40" stroke="#bdbdbd" stroke-width="0.8"/>
<path d="M219.50 757.40V763.40" stroke="#bdbdbd" stroke-width="0.8"/>
<path d="M253.80 757.40V763.40" stroke="#bdbdbd" stroke-width="0.8"/>
<path d="M288.30 757.40V763.40" stroke="#bdbdbd" stroke-width="0.8"/>
<path d="M322.80 757.40V763.40" stroke="#777" stroke-width="0.8"/>
<path d="M47.00 757.40H322.80M47.00 763.40H322.80" stroke="#6a6a6a" stroke-width="0.8"/>
<text x="64.70" y="762.6" font-size="6.6" text-anchor="middle" fill="#0d0d0d">P4</text>
<text x="99.50" y="762.6" font-size="6.6" text-anchor="middle" fill="#0d0d0d">P3</text>
<text x="133.75" y="762.6" font-size="6.6" text-anchor="middle" fill="#0d0d0d">P2</text>
<text x="168.10" y="762.6" font-size="6.6" text-anchor="middle" fill="#0d0d0d">P1</text>
<text x="202.40" y="762.6" font-size="6.6" text-anchor="middle" fill="#0d0d0d">P1′</text>
<text x="236.65" y="762.6" font-size="6.6" text-anchor="middle" fill="#0d0d0d">P2′</text>
<text x="271.05" y="762.6" font-size="6.6" text-anchor="middle" fill="#0d0d0d">P3′</text>
<text x="305.55" y="762.6" font-size="6.6" text-anchor="middle" fill="#0d0d0d">P4′</text>
<path d="M185.30 679.2V842" stroke="#8a8a8a" stroke-width="0.9" stroke-dasharray="1 2.15"/>
<text transform="matrix(0.3560 0 0 0.1686 53.780 755.600)" font-size="100" fill="#b22ef2">F</text>
<text transform="matrix(0.3513 0 0 0.1526 84.718 756.400)" font-size="100" fill="#d2124e">M</text>
<text transform="matrix(0.3469 0 0 0.3270 88.032 787.500)" font-size="100" fill="#0a0ae8">A</text>
<text transform="matrix(0.3812 0 0 0.3081 118.273 756.400)" font-size="100" fill="#d2124e">M</text>
<text transform="matrix(0.3543 0 0 0.1526 153.694 756.200)" font-size="100" fill="#d2124e">M</text>
<text transform="matrix(0.3502 0 0 0.2297 157.613 744.000)" font-size="100" fill="#d1a30c">T</text>
<text transform="matrix(0.3516 0 0 0.2018 154.935 723.888)" font-size="100" fill="#cc4a0c">Q</text>
<text transform="matrix(0.3638 0 0 0.2471 155.416 782.500)" font-size="100" fill="#ffbfca">R</text>
<text transform="matrix(0.3294 0 0 0.1279 190.698 755.700)" font-size="100" fill="#e012e0">H</text>
<text transform="matrix(0.3413 0 0 0.2297 192.633 744.800)" font-size="100" fill="#d1a30c">T</text>
<text transform="matrix(0.3648 0 0 0.3969 190.544 727.312)" font-size="100" fill="#d0720c">S</text>
<text transform="matrix(0.3514 0 0 0.3488 225.231 756.200)" font-size="100" fill="#0a0ae8">A</text>
<text transform="matrix(0.3484 0 0 0.2340 295.417 755.900)" font-size="100" fill="#d1a30c">T</text>
<path d="M398.40 678.9V840.8" stroke="#8c8c8c" stroke-width="0.95" fill="none"/>
<path d="M395.50 685.20H398.40" stroke="#666" stroke-width="0.8"/>
<text x="391.70" y="687.90" font-size="7.8" text-anchor="end" fill="#0d0d0d">28</text>
<path d="M395.50 721.30H398.40" stroke="#666" stroke-width="0.8"/>
<text x="391.70" y="724.00" font-size="7.8" text-anchor="end" fill="#0d0d0d">14</text>
<path d="M395.50 799.50H398.40" stroke="#666" stroke-width="0.8"/>
<text x="391.70" y="802.20" font-size="7.8" text-anchor="end" fill="#0d0d0d">−14</text>
<path d="M395.50 835.60H398.40" stroke="#666" stroke-width="0.8"/>
<text x="391.70" y="838.30" font-size="7.8" text-anchor="end" fill="#0d0d0d">−28</text>
<text transform="translate(373.10,759.9) rotate(-90)" font-size="8" text-anchor="middle" fill="#0d0d0d">Percentage difference</text>
<rect x="398.60" y="757.40" width="275.80" height="6.00" fill="#fff"/>
<path d="M434.00 757.40V763.40" stroke="#bdbdbd" stroke-width="0.8"/>
<path d="M468.20 757.40V763.40" stroke="#bdbdbd" stroke-width="0.8"/>
<path d="M502.50 757.40V763.40" stroke="#bdbdbd" stroke-width="0.8"/>
<path d="M536.90 757.40V763.40" stroke="#bdbdbd" stroke-width="0.8"/>
<path d="M571.10 757.40V763.40" stroke="#bdbdbd" stroke-width="0.8"/>
<path d="M605.40 757.40V763.40" stroke="#bdbdbd" stroke-width="0.8"/>
<path d="M639.90 757.40V763.40" stroke="#bdbdbd" stroke-width="0.8"/>
<path d="M674.40 757.40V763.40" stroke="#777" stroke-width="0.8"/>
<path d="M398.60 757.40H674.40M398.60 763.40H674.40" stroke="#6a6a6a" stroke-width="0.8"/>
<text x="416.30" y="762.6" font-size="6.6" text-anchor="middle" fill="#0d0d0d">P4</text>
<text x="451.10" y="762.6" font-size="6.6" text-anchor="middle" fill="#0d0d0d">P3</text>
<text x="485.35" y="762.6" font-size="6.6" text-anchor="middle" fill="#0d0d0d">P2</text>
<text x="519.70" y="762.6" font-size="6.6" text-anchor="middle" fill="#0d0d0d">P1</text>
<text x="554.00" y="762.6" font-size="6.6" text-anchor="middle" fill="#0d0d0d">P1′</text>
<text x="588.25" y="762.6" font-size="6.6" text-anchor="middle" fill="#0d0d0d">P2′</text>
<text x="622.65" y="762.6" font-size="6.6" text-anchor="middle" fill="#0d0d0d">P3′</text>
<text x="657.15" y="762.6" font-size="6.6" text-anchor="middle" fill="#0d0d0d">P4′</text>
<path d="M536.90 679.2V842" stroke="#8a8a8a" stroke-width="0.9" stroke-dasharray="1 2.15"/>
<text transform="matrix(0.3214 0 0 0.0959 437.664 755.900)" font-size="100" fill="#d2124e">M</text>
<text transform="matrix(0.3401 0 0 0.1356 438.190 774.168)" font-size="100" fill="#dc12dc">G</text>
<text transform="matrix(0.3436 0 0 0.1352 473.082 755.900)" font-size="100" fill="#d0650c">R</text>
<text transform="matrix(0.3229 0 0 0.1483 474.351 745.100)" font-size="100" fill="#7a28e0">E</text>
<text transform="matrix(0.3904 0 0 0.6323 506.397 743.100)" font-size="100" fill="#d4148c">K</text>
<text transform="matrix(0.2969 0 0 0.0862 508.593 750.016)" font-size="100" fill="#3a3af0">C</text>
<text transform="matrix(0.2829 0 0 0.0610 509.580 755.700)" font-size="100" fill="#f08cf0">H</text>
<text transform="matrix(0.3017 0 0 0.0945 509.437 771.500)" font-size="100" fill="#8cc81e">Y</text>
<text transform="matrix(0.3073 0 0 0.1395 508.179 782.500)" font-size="100" fill="#5a14e0">D</text>
<text transform="matrix(0.3352 0 0 0.1831 507.351 796.500)" font-size="100" fill="#ffbfca">R</text>
<text transform="matrix(0.3992 0 0 0.6875 540.126 756.200)" font-size="100" fill="#d0650c">R</text>
<text transform="matrix(0.4718 0 0 0.1323 547.846 774.600)" font-size="100" fill="#d2124e">I</text>
<text transform="matrix(0.3470 0 0 0.1642 544.053 787.700)" font-size="100" fill="#d2124e">L</text>
<text transform="matrix(0.3294 0 0 0.1526 578.098 755.700)" font-size="100" fill="#a424f0">F</text>
<text transform="matrix(0.2811 0 0 0.0819 577.973 770.720)" font-size="100" fill="#ffbfca">C</text>
<text transform="matrix(0.2857 0 0 0.0887 578.772 778.100)" font-size="100" fill="#8cc81e">Y</text>
<text transform="matrix(0.3050 0 0 0.1061 577.498 787.200)" font-size="100" fill="#d4148c">K</text>
<text transform="matrix(0.3438 0 0 0.2936 611.333 756.200)" font-size="100" fill="#0a0ae8">A</text>
<text transform="matrix(0.3017 0 0 0.0945 613.037 771.500)" font-size="100" fill="#8cc81e">Y</text>
<text transform="matrix(0.3368 0 0 0.1526 610.937 783.400)" font-size="100" fill="#d0650c">R</text>
<text transform="matrix(0.3413 0 0 0.1686 646.933 744.500)" font-size="100" fill="#d1a30c">T</text>
<text transform="matrix(0.3438 0 0 0.1454 645.879 755.700)" font-size="100" fill="#dc1212">P</text>
<text transform="matrix(0.3017 0 0 0.0945 647.037 771.500)" font-size="100" fill="#8cc81e">Y</text>
<text transform="matrix(0.3503 0 0 0.1773 644.826 785.100)" font-size="100" fill="#d0650c">R</text></svg></body></html>
